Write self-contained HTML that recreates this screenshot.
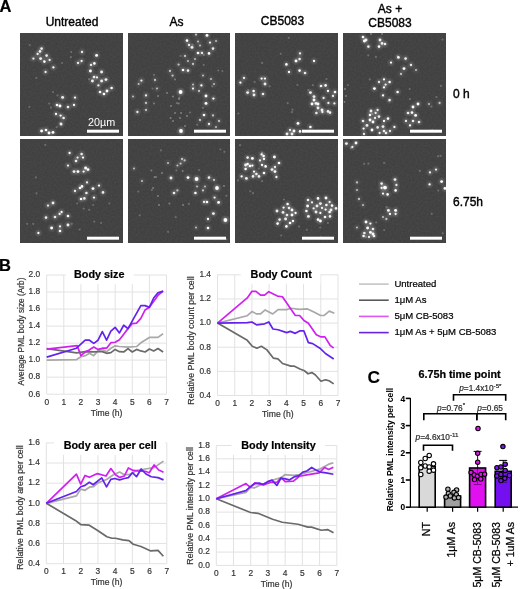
<!DOCTYPE html><html><head><meta charset="utf-8"><style>html,body{margin:0;padding:0;background:#fff;width:520px;height:589px;overflow:hidden;position:relative}</style></head><body><svg width="520" height="589" viewBox="0 0 520 589" style="position:absolute;left:0;top:0;will-change:transform">
<defs><radialGradient id="dg"><stop offset="0" stop-color="#fff" stop-opacity="1"/><stop offset="0.45" stop-color="#fff" stop-opacity="0.9"/><stop offset="1" stop-color="#fff" stop-opacity="0"/></radialGradient><filter id="bl" x="-100%" y="-100%" width="300%" height="300%"><feGaussianBlur stdDeviation="0.55"/></filter><filter id="nz" x="0" y="0" width="100%" height="100%"><feTurbulence type="fractalNoise" baseFrequency="0.55" numOctaves="2" seed="3"/><feColorMatrix values="0 0 0 0 0.5  0 0 0 0 0.5  0 0 0 0 0.5  0 0 0 0.11 0"/></filter></defs>
<rect width="520" height="589" fill="#fff"/>
<rect x="20" y="33" width="103" height="103" fill="#3c3c3c"/>
<rect x="20" y="33" width="103" height="103" filter="url(#nz)"/>
<g clip-path="inset(0)">
<circle cx="41.6" cy="48.6" r="4.5" fill="url(#dg)" opacity="0.13"/>
<circle cx="41.6" cy="48.6" r="1.3" fill="#fff" opacity="0.9" filter="url(#bl)"/>
<circle cx="40.0" cy="51.4" r="4.5" fill="url(#dg)" opacity="0.13"/>
<circle cx="40.0" cy="51.4" r="1.3" fill="#fff" opacity="0.9" filter="url(#bl)"/>
<circle cx="37.6" cy="54.0" r="4.35" fill="url(#dg)" opacity="0.13"/>
<circle cx="37.6" cy="54.0" r="1.15" fill="#fff" opacity="0.9" filter="url(#bl)"/>
<circle cx="46.6" cy="55.6" r="4.5" fill="url(#dg)" opacity="0.13"/>
<circle cx="46.6" cy="55.6" r="1.3" fill="#fff" opacity="0.9" filter="url(#bl)"/>
<circle cx="40.6" cy="58.6" r="4.65" fill="url(#dg)" opacity="0.13"/>
<circle cx="40.6" cy="58.6" r="1.45" fill="#fff" opacity="0.9" filter="url(#bl)"/>
<circle cx="33.4" cy="58.6" r="4.35" fill="url(#dg)" opacity="0.13"/>
<circle cx="33.4" cy="58.6" r="1.15" fill="#fff" opacity="0.9" filter="url(#bl)"/>
<circle cx="44.4" cy="61.6" r="4.5" fill="url(#dg)" opacity="0.13"/>
<circle cx="44.4" cy="61.6" r="1.3" fill="#fff" opacity="1.0" filter="url(#bl)"/>
<circle cx="49.6" cy="60.0" r="4.35" fill="url(#dg)" opacity="0.13"/>
<circle cx="49.6" cy="60.0" r="1.15" fill="#fff" opacity="0.9" filter="url(#bl)"/>
<circle cx="53.4" cy="67.4" r="4.35" fill="url(#dg)" opacity="0.13"/>
<circle cx="53.4" cy="67.4" r="1.15" fill="#fff" opacity="1.0" filter="url(#bl)"/>
<circle cx="45.6" cy="72.0" r="4.35" fill="url(#dg)" opacity="0.13"/>
<circle cx="45.6" cy="72.0" r="1.15" fill="#fff" opacity="0.9" filter="url(#bl)"/>
<circle cx="82.0" cy="52.0" r="4.35" fill="url(#dg)" opacity="0.13"/>
<circle cx="82.0" cy="52.0" r="1.15" fill="#fff" opacity="0.9" filter="url(#bl)"/>
<circle cx="96.6" cy="55.4" r="4.65" fill="url(#dg)" opacity="0.13"/>
<circle cx="96.6" cy="55.4" r="1.45" fill="#fff" opacity="1.0" filter="url(#bl)"/>
<circle cx="78.0" cy="63.0" r="4.35" fill="url(#dg)" opacity="0.13"/>
<circle cx="78.0" cy="63.0" r="1.15" fill="#fff" opacity="0.9" filter="url(#bl)"/>
<circle cx="81.6" cy="61.0" r="4.35" fill="url(#dg)" opacity="0.13"/>
<circle cx="81.6" cy="61.0" r="1.15" fill="#fff" opacity="0.9" filter="url(#bl)"/>
<circle cx="94.4" cy="63.4" r="4.5" fill="url(#dg)" opacity="0.13"/>
<circle cx="94.4" cy="63.4" r="1.3" fill="#fff" opacity="1.0" filter="url(#bl)"/>
<circle cx="91.0" cy="65.0" r="4.35" fill="url(#dg)" opacity="0.13"/>
<circle cx="91.0" cy="65.0" r="1.15" fill="#fff" opacity="0.9" filter="url(#bl)"/>
<circle cx="90.4" cy="71.0" r="4.65" fill="url(#dg)" opacity="0.13"/>
<circle cx="90.4" cy="71.0" r="1.45" fill="#fff" opacity="1.0" filter="url(#bl)"/>
<circle cx="101.6" cy="72.0" r="4.65" fill="url(#dg)" opacity="0.13"/>
<circle cx="101.6" cy="72.0" r="1.45" fill="#fff" opacity="0.9" filter="url(#bl)"/>
<circle cx="97.0" cy="77.4" r="4.35" fill="url(#dg)" opacity="0.13"/>
<circle cx="97.0" cy="77.4" r="1.15" fill="#fff" opacity="0.9" filter="url(#bl)"/>
<circle cx="94.0" cy="77.0" r="4.5" fill="url(#dg)" opacity="0.13"/>
<circle cx="94.0" cy="77.0" r="1.3" fill="#fff" opacity="0.9" filter="url(#bl)"/>
<circle cx="106.0" cy="79.6" r="4.65" fill="url(#dg)" opacity="0.13"/>
<circle cx="106.0" cy="79.6" r="1.45" fill="#fff" opacity="0.9" filter="url(#bl)"/>
<circle cx="92.4" cy="81.0" r="4.65" fill="url(#dg)" opacity="0.13"/>
<circle cx="92.4" cy="81.0" r="1.45" fill="#fff" opacity="0.9" filter="url(#bl)"/>
<circle cx="101.6" cy="81.0" r="4.65" fill="url(#dg)" opacity="0.13"/>
<circle cx="101.6" cy="81.0" r="1.45" fill="#fff" opacity="0.9" filter="url(#bl)"/>
<circle cx="111.6" cy="88.0" r="4.5" fill="url(#dg)" opacity="0.13"/>
<circle cx="111.6" cy="88.0" r="1.3" fill="#fff" opacity="1.0" filter="url(#bl)"/>
<circle cx="100.0" cy="92.0" r="4.5" fill="url(#dg)" opacity="0.13"/>
<circle cx="100.0" cy="92.0" r="1.3" fill="#fff" opacity="1.0" filter="url(#bl)"/>
<circle cx="107.0" cy="91.0" r="4.65" fill="url(#dg)" opacity="0.13"/>
<circle cx="107.0" cy="91.0" r="1.45" fill="#fff" opacity="1.0" filter="url(#bl)"/>
<circle cx="104.0" cy="94.0" r="4.5" fill="url(#dg)" opacity="0.13"/>
<circle cx="104.0" cy="94.0" r="1.3" fill="#fff" opacity="1.0" filter="url(#bl)"/>
<circle cx="98.4" cy="85.4" r="4.35" fill="url(#dg)" opacity="0.13"/>
<circle cx="98.4" cy="85.4" r="1.15" fill="#fff" opacity="0.9" filter="url(#bl)"/>
<circle cx="62.6" cy="97.4" r="4.65" fill="url(#dg)" opacity="0.13"/>
<circle cx="62.6" cy="97.4" r="1.45" fill="#fff" opacity="0.9" filter="url(#bl)"/>
<circle cx="75.0" cy="97.6" r="4.35" fill="url(#dg)" opacity="0.13"/>
<circle cx="75.0" cy="97.6" r="1.15" fill="#fff" opacity="1.0" filter="url(#bl)"/>
<circle cx="60.0" cy="106.0" r="4.65" fill="url(#dg)" opacity="0.13"/>
<circle cx="60.0" cy="106.0" r="1.45" fill="#fff" opacity="1.0" filter="url(#bl)"/>
<circle cx="57.0" cy="105.0" r="4.5" fill="url(#dg)" opacity="0.13"/>
<circle cx="57.0" cy="105.0" r="1.3" fill="#fff" opacity="1.0" filter="url(#bl)"/>
<circle cx="68.0" cy="107.0" r="4.5" fill="url(#dg)" opacity="0.13"/>
<circle cx="68.0" cy="107.0" r="1.3" fill="#fff" opacity="0.9" filter="url(#bl)"/>
<circle cx="74.0" cy="105.0" r="4.35" fill="url(#dg)" opacity="0.13"/>
<circle cx="74.0" cy="105.0" r="1.15" fill="#fff" opacity="1.0" filter="url(#bl)"/>
<circle cx="56.0" cy="114.0" r="4.35" fill="url(#dg)" opacity="0.13"/>
<circle cx="56.0" cy="114.0" r="1.15" fill="#fff" opacity="1.0" filter="url(#bl)"/>
<circle cx="60.6" cy="115.6" r="4.35" fill="url(#dg)" opacity="0.13"/>
<circle cx="60.6" cy="115.6" r="1.15" fill="#fff" opacity="1.0" filter="url(#bl)"/>
<circle cx="63.6" cy="118.0" r="4.5" fill="url(#dg)" opacity="0.13"/>
<circle cx="63.6" cy="118.0" r="1.3" fill="#fff" opacity="0.9" filter="url(#bl)"/>
<circle cx="61.0" cy="124.0" r="4.65" fill="url(#dg)" opacity="0.13"/>
<circle cx="61.0" cy="124.0" r="1.45" fill="#fff" opacity="0.9" filter="url(#bl)"/>
<circle cx="41.6" cy="131.0" r="4.65" fill="url(#dg)" opacity="0.13"/>
<circle cx="41.6" cy="131.0" r="1.45" fill="#fff" opacity="1.0" filter="url(#bl)"/>
<circle cx="46.0" cy="130.0" r="4.5" fill="url(#dg)" opacity="0.13"/>
<circle cx="46.0" cy="130.0" r="1.3" fill="#fff" opacity="1.0" filter="url(#bl)"/>
<circle cx="49.0" cy="133.0" r="4.65" fill="url(#dg)" opacity="0.13"/>
<circle cx="49.0" cy="133.0" r="1.45" fill="#fff" opacity="1.0" filter="url(#bl)"/>
<circle cx="53.0" cy="132.4" r="4.65" fill="url(#dg)" opacity="0.13"/>
<circle cx="53.0" cy="132.4" r="1.45" fill="#fff" opacity="1.0" filter="url(#bl)"/>
<circle cx="29.7" cy="45.1" r="1.1" fill="#fff" opacity="0.22" filter="url(#bl)"/>
<circle cx="49.2" cy="103.6" r="1.1" fill="#fff" opacity="0.22" filter="url(#bl)"/>
<circle cx="29.3" cy="106.9" r="1.1" fill="#fff" opacity="0.22" filter="url(#bl)"/>
<circle cx="53.0" cy="92.1" r="1.1" fill="#fff" opacity="0.22" filter="url(#bl)"/>
<circle cx="89.1" cy="79.2" r="1.1" fill="#fff" opacity="0.22" filter="url(#bl)"/>
<circle cx="92.5" cy="122.0" r="1.1" fill="#fff" opacity="0.22" filter="url(#bl)"/>
<circle cx="56.7" cy="127.2" r="1.1" fill="#fff" opacity="0.22" filter="url(#bl)"/>
<circle cx="57.5" cy="95.3" r="1.1" fill="#fff" opacity="0.22" filter="url(#bl)"/>
<circle cx="70.9" cy="57.2" r="1.1" fill="#fff" opacity="0.22" filter="url(#bl)"/>
<circle cx="50.9" cy="107.6" r="1.1" fill="#fff" opacity="0.22" filter="url(#bl)"/>
<circle cx="61.6" cy="124.9" r="1.1" fill="#fff" opacity="0.22" filter="url(#bl)"/>
<circle cx="71.2" cy="52.1" r="1.1" fill="#fff" opacity="0.22" filter="url(#bl)"/>
<circle cx="62.0" cy="63.0" r="1.1" fill="#fff" opacity="0.22" filter="url(#bl)"/>
<circle cx="36.3" cy="77.8" r="1.1" fill="#fff" opacity="0.22" filter="url(#bl)"/>
</g>
<rect x="87" y="129.7" width="32" height="3" fill="#fff"/>
<rect x="128" y="33" width="102" height="103" fill="#3c3c3c"/>
<rect x="128" y="33" width="102" height="103" filter="url(#nz)"/>
<g clip-path="inset(0)">
<circle cx="207.0" cy="35.4" r="4.65" fill="url(#dg)" opacity="0.13"/>
<circle cx="207.0" cy="35.4" r="1.45" fill="#fff" opacity="1.0" filter="url(#bl)"/>
<circle cx="196.0" cy="34.6" r="4.35" fill="url(#dg)" opacity="0.07"/>
<circle cx="196.0" cy="34.6" r="1.15" fill="#fff" opacity="0.65" filter="url(#bl)"/>
<circle cx="187.0" cy="40.6" r="4.5" fill="url(#dg)" opacity="0.13"/>
<circle cx="187.0" cy="40.6" r="1.3" fill="#fff" opacity="1.0" filter="url(#bl)"/>
<circle cx="198.0" cy="41.4" r="4.2" fill="url(#dg)" opacity="0.07"/>
<circle cx="198.0" cy="41.4" r="1.0" fill="#fff" opacity="0.65" filter="url(#bl)"/>
<circle cx="210.0" cy="42.6" r="4.35" fill="url(#dg)" opacity="0.13"/>
<circle cx="210.0" cy="42.6" r="1.15" fill="#fff" opacity="0.9" filter="url(#bl)"/>
<circle cx="216.0" cy="41.0" r="4.2" fill="url(#dg)" opacity="0.07"/>
<circle cx="216.0" cy="41.0" r="1.0" fill="#fff" opacity="0.65" filter="url(#bl)"/>
<circle cx="189.0" cy="45.0" r="4.35" fill="url(#dg)" opacity="0.13"/>
<circle cx="189.0" cy="45.0" r="1.15" fill="#fff" opacity="0.9" filter="url(#bl)"/>
<circle cx="192.0" cy="47.4" r="4.65" fill="url(#dg)" opacity="0.13"/>
<circle cx="192.0" cy="47.4" r="1.45" fill="#fff" opacity="0.9" filter="url(#bl)"/>
<circle cx="200.0" cy="45.4" r="4.2" fill="url(#dg)" opacity="0.07"/>
<circle cx="200.0" cy="45.4" r="1.0" fill="#fff" opacity="0.65" filter="url(#bl)"/>
<circle cx="213.0" cy="48.6" r="4.5" fill="url(#dg)" opacity="0.13"/>
<circle cx="213.0" cy="48.6" r="1.3" fill="#fff" opacity="0.9" filter="url(#bl)"/>
<circle cx="198.0" cy="53.0" r="4.5" fill="url(#dg)" opacity="0.13"/>
<circle cx="198.0" cy="53.0" r="1.3" fill="#fff" opacity="1.0" filter="url(#bl)"/>
<circle cx="202.0" cy="53.0" r="4.35" fill="url(#dg)" opacity="0.13"/>
<circle cx="202.0" cy="53.0" r="1.15" fill="#fff" opacity="0.9" filter="url(#bl)"/>
<circle cx="209.0" cy="53.4" r="4.5" fill="url(#dg)" opacity="0.13"/>
<circle cx="209.0" cy="53.4" r="1.3" fill="#fff" opacity="1.0" filter="url(#bl)"/>
<circle cx="185.0" cy="56.0" r="4.35" fill="url(#dg)" opacity="0.07"/>
<circle cx="185.0" cy="56.0" r="1.15" fill="#fff" opacity="0.65" filter="url(#bl)"/>
<circle cx="195.0" cy="59.0" r="4.2" fill="url(#dg)" opacity="0.07"/>
<circle cx="195.0" cy="59.0" r="1.0" fill="#fff" opacity="0.65" filter="url(#bl)"/>
<circle cx="188.0" cy="61.0" r="4.2" fill="url(#dg)" opacity="0.07"/>
<circle cx="188.0" cy="61.0" r="1.0" fill="#fff" opacity="0.65" filter="url(#bl)"/>
<circle cx="193.0" cy="64.0" r="4.35" fill="url(#dg)" opacity="0.07"/>
<circle cx="193.0" cy="64.0" r="1.15" fill="#fff" opacity="0.65" filter="url(#bl)"/>
<circle cx="178.6" cy="64.6" r="4.35" fill="url(#dg)" opacity="0.07"/>
<circle cx="178.6" cy="64.6" r="1.15" fill="#fff" opacity="0.65" filter="url(#bl)"/>
<circle cx="183.0" cy="70.0" r="4.5" fill="url(#dg)" opacity="0.13"/>
<circle cx="183.0" cy="70.0" r="1.3" fill="#fff" opacity="1.0" filter="url(#bl)"/>
<circle cx="188.0" cy="70.6" r="4.5" fill="url(#dg)" opacity="0.13"/>
<circle cx="188.0" cy="70.6" r="1.3" fill="#fff" opacity="0.9" filter="url(#bl)"/>
<circle cx="170.0" cy="71.0" r="4.35" fill="url(#dg)" opacity="0.07"/>
<circle cx="170.0" cy="71.0" r="1.15" fill="#fff" opacity="0.65" filter="url(#bl)"/>
<circle cx="172.6" cy="75.6" r="4.35" fill="url(#dg)" opacity="0.07"/>
<circle cx="172.6" cy="75.6" r="1.15" fill="#fff" opacity="0.65" filter="url(#bl)"/>
<circle cx="203.0" cy="75.4" r="4.2" fill="url(#dg)" opacity="0.07"/>
<circle cx="203.0" cy="75.4" r="1.0" fill="#fff" opacity="0.65" filter="url(#bl)"/>
<circle cx="211.0" cy="79.0" r="4.2" fill="url(#dg)" opacity="0.07"/>
<circle cx="211.0" cy="79.0" r="1.0" fill="#fff" opacity="0.65" filter="url(#bl)"/>
<circle cx="175.0" cy="79.4" r="1.0" fill="#fff" opacity="0.32" filter="url(#bl)"/>
<circle cx="141.4" cy="80.6" r="4.35" fill="url(#dg)" opacity="0.13"/>
<circle cx="141.4" cy="80.6" r="1.15" fill="#fff" opacity="0.9" filter="url(#bl)"/>
<circle cx="155.0" cy="80.0" r="4.35" fill="url(#dg)" opacity="0.07"/>
<circle cx="155.0" cy="80.0" r="1.15" fill="#fff" opacity="0.65" filter="url(#bl)"/>
<circle cx="138.6" cy="84.0" r="4.2" fill="url(#dg)" opacity="0.07"/>
<circle cx="138.6" cy="84.0" r="1.0" fill="#fff" opacity="0.65" filter="url(#bl)"/>
<circle cx="201.4" cy="85.4" r="4.35" fill="url(#dg)" opacity="0.13"/>
<circle cx="201.4" cy="85.4" r="1.15" fill="#fff" opacity="1.0" filter="url(#bl)"/>
<circle cx="214.0" cy="84.0" r="4.2" fill="url(#dg)" opacity="0.07"/>
<circle cx="214.0" cy="84.0" r="1.0" fill="#fff" opacity="0.65" filter="url(#bl)"/>
<circle cx="193.0" cy="84.6" r="4.2" fill="url(#dg)" opacity="0.07"/>
<circle cx="193.0" cy="84.6" r="1.0" fill="#fff" opacity="0.65" filter="url(#bl)"/>
<circle cx="193.0" cy="88.6" r="4.35" fill="url(#dg)" opacity="0.13"/>
<circle cx="193.0" cy="88.6" r="1.15" fill="#fff" opacity="0.9" filter="url(#bl)"/>
<circle cx="157.0" cy="88.6" r="4.2" fill="url(#dg)" opacity="0.07"/>
<circle cx="157.0" cy="88.6" r="1.0" fill="#fff" opacity="0.65" filter="url(#bl)"/>
<circle cx="199.0" cy="91.0" r="4.35" fill="url(#dg)" opacity="0.07"/>
<circle cx="199.0" cy="91.0" r="1.15" fill="#fff" opacity="0.65" filter="url(#bl)"/>
<circle cx="180.6" cy="92.0" r="5.1" fill="url(#dg)" opacity="0.22"/>
<circle cx="180.6" cy="92.0" r="1.9" fill="#fff" opacity="1.0" filter="url(#bl)"/>
<circle cx="167.0" cy="93.0" r="1.0" fill="#fff" opacity="0.32" filter="url(#bl)"/>
<circle cx="133.0" cy="96.6" r="4.2" fill="url(#dg)" opacity="0.07"/>
<circle cx="133.0" cy="96.6" r="1.0" fill="#fff" opacity="0.65" filter="url(#bl)"/>
<circle cx="146.0" cy="95.4" r="4.35" fill="url(#dg)" opacity="0.13"/>
<circle cx="146.0" cy="95.4" r="1.15" fill="#fff" opacity="0.9" filter="url(#bl)"/>
<circle cx="206.0" cy="96.0" r="4.65" fill="url(#dg)" opacity="0.13"/>
<circle cx="206.0" cy="96.0" r="1.45" fill="#fff" opacity="1.0" filter="url(#bl)"/>
<circle cx="213.4" cy="98.6" r="4.35" fill="url(#dg)" opacity="0.13"/>
<circle cx="213.4" cy="98.6" r="1.15" fill="#fff" opacity="1.0" filter="url(#bl)"/>
<circle cx="158.0" cy="96.0" r="1.0" fill="#fff" opacity="0.32" filter="url(#bl)"/>
<circle cx="173.0" cy="96.6" r="1.0" fill="#fff" opacity="0.32" filter="url(#bl)"/>
<circle cx="179.0" cy="99.0" r="1.0" fill="#fff" opacity="0.32" filter="url(#bl)"/>
<circle cx="146.0" cy="103.0" r="4.35" fill="url(#dg)" opacity="0.07"/>
<circle cx="146.0" cy="103.0" r="1.15" fill="#fff" opacity="0.65" filter="url(#bl)"/>
<circle cx="154.0" cy="103.4" r="1.0" fill="#fff" opacity="0.32" filter="url(#bl)"/>
<circle cx="178.6" cy="103.4" r="1.0" fill="#fff" opacity="0.32" filter="url(#bl)"/>
<circle cx="206.0" cy="103.4" r="4.65" fill="url(#dg)" opacity="0.13"/>
<circle cx="206.0" cy="103.4" r="1.45" fill="#fff" opacity="1.0" filter="url(#bl)"/>
<circle cx="171.0" cy="106.0" r="1.0" fill="#fff" opacity="0.32" filter="url(#bl)"/>
<circle cx="146.0" cy="110.0" r="4.35" fill="url(#dg)" opacity="0.07"/>
<circle cx="146.0" cy="110.0" r="1.15" fill="#fff" opacity="0.65" filter="url(#bl)"/>
<circle cx="137.4" cy="112.0" r="4.35" fill="url(#dg)" opacity="0.13"/>
<circle cx="137.4" cy="112.0" r="1.15" fill="#fff" opacity="0.9" filter="url(#bl)"/>
<circle cx="175.0" cy="113.0" r="1.0" fill="#fff" opacity="0.32" filter="url(#bl)"/>
<circle cx="181.0" cy="113.0" r="1.0" fill="#fff" opacity="0.32" filter="url(#bl)"/>
<circle cx="204.0" cy="115.0" r="4.5" fill="url(#dg)" opacity="0.13"/>
<circle cx="204.0" cy="115.0" r="1.3" fill="#fff" opacity="1.0" filter="url(#bl)"/>
<circle cx="213.0" cy="115.4" r="4.35" fill="url(#dg)" opacity="0.07"/>
<circle cx="213.0" cy="115.4" r="1.15" fill="#fff" opacity="0.65" filter="url(#bl)"/>
<circle cx="187.0" cy="116.0" r="1.0" fill="#fff" opacity="0.32" filter="url(#bl)"/>
<circle cx="170.6" cy="118.0" r="1.0" fill="#fff" opacity="0.32" filter="url(#bl)"/>
<circle cx="180.0" cy="118.0" r="1.0" fill="#fff" opacity="0.32" filter="url(#bl)"/>
<circle cx="200.0" cy="120.0" r="4.35" fill="url(#dg)" opacity="0.07"/>
<circle cx="200.0" cy="120.0" r="1.15" fill="#fff" opacity="0.65" filter="url(#bl)"/>
<circle cx="219.0" cy="121.0" r="4.35" fill="url(#dg)" opacity="0.07"/>
<circle cx="219.0" cy="121.0" r="1.15" fill="#fff" opacity="0.65" filter="url(#bl)"/>
<circle cx="209.0" cy="124.0" r="4.35" fill="url(#dg)" opacity="0.13"/>
<circle cx="209.0" cy="124.0" r="1.15" fill="#fff" opacity="0.9" filter="url(#bl)"/>
<circle cx="173.0" cy="121.0" r="1.0" fill="#fff" opacity="0.32" filter="url(#bl)"/>
<circle cx="216.0" cy="127.0" r="4.2" fill="url(#dg)" opacity="0.07"/>
<circle cx="216.0" cy="127.0" r="1.0" fill="#fff" opacity="0.65" filter="url(#bl)"/>
<circle cx="185.0" cy="126.0" r="1.0" fill="#fff" opacity="0.32" filter="url(#bl)"/>
<circle cx="181.0" cy="131.0" r="5.1" fill="url(#dg)" opacity="0.22"/>
<circle cx="181.0" cy="131.0" r="1.9" fill="#fff" opacity="1.0" filter="url(#bl)"/>
<circle cx="203.0" cy="107.8" r="1.1" fill="#fff" opacity="0.22" filter="url(#bl)"/>
<circle cx="176.9" cy="103.1" r="1.1" fill="#fff" opacity="0.22" filter="url(#bl)"/>
<circle cx="180.6" cy="55.9" r="1.1" fill="#fff" opacity="0.22" filter="url(#bl)"/>
<circle cx="222.4" cy="71.1" r="1.1" fill="#fff" opacity="0.22" filter="url(#bl)"/>
<circle cx="197.2" cy="124.7" r="1.1" fill="#fff" opacity="0.22" filter="url(#bl)"/>
<circle cx="203.8" cy="64.9" r="1.1" fill="#fff" opacity="0.22" filter="url(#bl)"/>
<circle cx="192.7" cy="44.8" r="1.1" fill="#fff" opacity="0.22" filter="url(#bl)"/>
<circle cx="212.2" cy="86.3" r="1.1" fill="#fff" opacity="0.22" filter="url(#bl)"/>
<circle cx="218.2" cy="70.5" r="1.1" fill="#fff" opacity="0.22" filter="url(#bl)"/>
<circle cx="152.4" cy="88.5" r="1.1" fill="#fff" opacity="0.22" filter="url(#bl)"/>
<circle cx="179.3" cy="97.7" r="1.1" fill="#fff" opacity="0.22" filter="url(#bl)"/>
<circle cx="189.9" cy="112.5" r="1.1" fill="#fff" opacity="0.22" filter="url(#bl)"/>
<circle cx="203.8" cy="54.9" r="1.1" fill="#fff" opacity="0.22" filter="url(#bl)"/>
<circle cx="154.0" cy="74.9" r="1.1" fill="#fff" opacity="0.22" filter="url(#bl)"/>
</g>
<rect x="194" y="129.7" width="32" height="3" fill="#fff"/>
<rect x="235" y="33" width="103" height="103" fill="#3c3c3c"/>
<rect x="235" y="33" width="103" height="103" filter="url(#nz)"/>
<g clip-path="inset(0)">
<circle cx="300.0" cy="53.4" r="4.35" fill="url(#dg)" opacity="0.13"/>
<circle cx="300.0" cy="53.4" r="1.15" fill="#fff" opacity="0.9" filter="url(#bl)"/>
<circle cx="296.0" cy="61.0" r="4.65" fill="url(#dg)" opacity="0.13"/>
<circle cx="296.0" cy="61.0" r="1.45" fill="#fff" opacity="1.0" filter="url(#bl)"/>
<circle cx="299.6" cy="59.0" r="4.5" fill="url(#dg)" opacity="0.13"/>
<circle cx="299.6" cy="59.0" r="1.3" fill="#fff" opacity="0.9" filter="url(#bl)"/>
<circle cx="314.0" cy="61.0" r="4.35" fill="url(#dg)" opacity="0.13"/>
<circle cx="314.0" cy="61.0" r="1.15" fill="#fff" opacity="1.0" filter="url(#bl)"/>
<circle cx="286.4" cy="64.4" r="4.5" fill="url(#dg)" opacity="0.13"/>
<circle cx="286.4" cy="64.4" r="1.3" fill="#fff" opacity="1.0" filter="url(#bl)"/>
<circle cx="289.0" cy="72.0" r="4.35" fill="url(#dg)" opacity="0.13"/>
<circle cx="289.0" cy="72.0" r="1.15" fill="#fff" opacity="1.0" filter="url(#bl)"/>
<circle cx="299.6" cy="70.6" r="4.5" fill="url(#dg)" opacity="0.13"/>
<circle cx="299.6" cy="70.6" r="1.3" fill="#fff" opacity="1.0" filter="url(#bl)"/>
<circle cx="305.0" cy="73.0" r="4.5" fill="url(#dg)" opacity="0.13"/>
<circle cx="305.0" cy="73.0" r="1.3" fill="#fff" opacity="0.9" filter="url(#bl)"/>
<circle cx="244.0" cy="78.0" r="4.35" fill="url(#dg)" opacity="0.13"/>
<circle cx="244.0" cy="78.0" r="1.15" fill="#fff" opacity="0.9" filter="url(#bl)"/>
<circle cx="240.4" cy="82.6" r="4.35" fill="url(#dg)" opacity="0.13"/>
<circle cx="240.4" cy="82.6" r="1.15" fill="#fff" opacity="1.0" filter="url(#bl)"/>
<circle cx="261.6" cy="78.6" r="4.35" fill="url(#dg)" opacity="0.13"/>
<circle cx="261.6" cy="78.6" r="1.15" fill="#fff" opacity="1.0" filter="url(#bl)"/>
<circle cx="265.0" cy="78.6" r="4.35" fill="url(#dg)" opacity="0.13"/>
<circle cx="265.0" cy="78.6" r="1.15" fill="#fff" opacity="1.0" filter="url(#bl)"/>
<circle cx="265.0" cy="84.0" r="4.65" fill="url(#dg)" opacity="0.13"/>
<circle cx="265.0" cy="84.0" r="1.45" fill="#fff" opacity="0.9" filter="url(#bl)"/>
<circle cx="253.6" cy="91.0" r="4.5" fill="url(#dg)" opacity="0.13"/>
<circle cx="253.6" cy="91.0" r="1.3" fill="#fff" opacity="1.0" filter="url(#bl)"/>
<circle cx="247.6" cy="92.6" r="4.65" fill="url(#dg)" opacity="0.13"/>
<circle cx="247.6" cy="92.6" r="1.45" fill="#fff" opacity="0.9" filter="url(#bl)"/>
<circle cx="254.0" cy="95.0" r="4.65" fill="url(#dg)" opacity="0.13"/>
<circle cx="254.0" cy="95.0" r="1.45" fill="#fff" opacity="0.9" filter="url(#bl)"/>
<circle cx="263.0" cy="94.0" r="4.5" fill="url(#dg)" opacity="0.13"/>
<circle cx="263.0" cy="94.0" r="1.3" fill="#fff" opacity="0.9" filter="url(#bl)"/>
<circle cx="321.0" cy="86.0" r="4.5" fill="url(#dg)" opacity="0.13"/>
<circle cx="321.0" cy="86.0" r="1.3" fill="#fff" opacity="0.9" filter="url(#bl)"/>
<circle cx="325.6" cy="85.4" r="4.5" fill="url(#dg)" opacity="0.13"/>
<circle cx="325.6" cy="85.4" r="1.3" fill="#fff" opacity="1.0" filter="url(#bl)"/>
<circle cx="328.0" cy="91.0" r="4.35" fill="url(#dg)" opacity="0.13"/>
<circle cx="328.0" cy="91.0" r="1.15" fill="#fff" opacity="1.0" filter="url(#bl)"/>
<circle cx="335.0" cy="92.0" r="4.5" fill="url(#dg)" opacity="0.13"/>
<circle cx="335.0" cy="92.0" r="1.3" fill="#fff" opacity="1.0" filter="url(#bl)"/>
<circle cx="310.4" cy="92.6" r="4.65" fill="url(#dg)" opacity="0.13"/>
<circle cx="310.4" cy="92.6" r="1.45" fill="#fff" opacity="0.9" filter="url(#bl)"/>
<circle cx="314.0" cy="96.6" r="4.65" fill="url(#dg)" opacity="0.13"/>
<circle cx="314.0" cy="96.6" r="1.45" fill="#fff" opacity="0.9" filter="url(#bl)"/>
<circle cx="323.6" cy="98.0" r="4.35" fill="url(#dg)" opacity="0.13"/>
<circle cx="323.6" cy="98.0" r="1.15" fill="#fff" opacity="0.9" filter="url(#bl)"/>
<circle cx="333.0" cy="96.0" r="4.35" fill="url(#dg)" opacity="0.13"/>
<circle cx="333.0" cy="96.0" r="1.15" fill="#fff" opacity="0.9" filter="url(#bl)"/>
<circle cx="314.0" cy="100.0" r="4.65" fill="url(#dg)" opacity="0.13"/>
<circle cx="314.0" cy="100.0" r="1.45" fill="#fff" opacity="1.0" filter="url(#bl)"/>
<circle cx="316.0" cy="103.4" r="4.65" fill="url(#dg)" opacity="0.13"/>
<circle cx="316.0" cy="103.4" r="1.45" fill="#fff" opacity="0.9" filter="url(#bl)"/>
<circle cx="318.0" cy="104.0" r="4.65" fill="url(#dg)" opacity="0.13"/>
<circle cx="318.0" cy="104.0" r="1.45" fill="#fff" opacity="1.0" filter="url(#bl)"/>
<circle cx="312.0" cy="104.0" r="4.65" fill="url(#dg)" opacity="0.13"/>
<circle cx="312.0" cy="104.0" r="1.45" fill="#fff" opacity="1.0" filter="url(#bl)"/>
<circle cx="328.4" cy="103.0" r="4.35" fill="url(#dg)" opacity="0.13"/>
<circle cx="328.4" cy="103.0" r="1.15" fill="#fff" opacity="0.9" filter="url(#bl)"/>
<circle cx="334.4" cy="103.4" r="4.35" fill="url(#dg)" opacity="0.13"/>
<circle cx="334.4" cy="103.4" r="1.15" fill="#fff" opacity="0.9" filter="url(#bl)"/>
<circle cx="318.0" cy="108.0" r="4.65" fill="url(#dg)" opacity="0.13"/>
<circle cx="318.0" cy="108.0" r="1.45" fill="#fff" opacity="0.9" filter="url(#bl)"/>
<circle cx="322.0" cy="110.0" r="4.65" fill="url(#dg)" opacity="0.13"/>
<circle cx="322.0" cy="110.0" r="1.45" fill="#fff" opacity="0.9" filter="url(#bl)"/>
<circle cx="316.4" cy="113.0" r="4.5" fill="url(#dg)" opacity="0.13"/>
<circle cx="316.4" cy="113.0" r="1.3" fill="#fff" opacity="0.9" filter="url(#bl)"/>
<circle cx="322.4" cy="112.0" r="4.35" fill="url(#dg)" opacity="0.13"/>
<circle cx="322.4" cy="112.0" r="1.15" fill="#fff" opacity="0.9" filter="url(#bl)"/>
<circle cx="328.0" cy="111.4" r="4.5" fill="url(#dg)" opacity="0.13"/>
<circle cx="328.0" cy="111.4" r="1.3" fill="#fff" opacity="0.9" filter="url(#bl)"/>
<circle cx="330.0" cy="112.6" r="4.5" fill="url(#dg)" opacity="0.13"/>
<circle cx="330.0" cy="112.6" r="1.3" fill="#fff" opacity="0.9" filter="url(#bl)"/>
<circle cx="298.0" cy="123.4" r="4.65" fill="url(#dg)" opacity="0.13"/>
<circle cx="298.0" cy="123.4" r="1.45" fill="#fff" opacity="1.0" filter="url(#bl)"/>
<circle cx="310.4" cy="127.0" r="4.5" fill="url(#dg)" opacity="0.13"/>
<circle cx="310.4" cy="127.0" r="1.3" fill="#fff" opacity="1.0" filter="url(#bl)"/>
<circle cx="290.0" cy="130.0" r="4.35" fill="url(#dg)" opacity="0.13"/>
<circle cx="290.0" cy="130.0" r="1.15" fill="#fff" opacity="0.9" filter="url(#bl)"/>
<circle cx="294.0" cy="131.0" r="4.65" fill="url(#dg)" opacity="0.13"/>
<circle cx="294.0" cy="131.0" r="1.45" fill="#fff" opacity="1.0" filter="url(#bl)"/>
<circle cx="300.0" cy="131.4" r="4.5" fill="url(#dg)" opacity="0.13"/>
<circle cx="300.0" cy="131.4" r="1.3" fill="#fff" opacity="1.0" filter="url(#bl)"/>
<circle cx="287.0" cy="134.0" r="4.65" fill="url(#dg)" opacity="0.13"/>
<circle cx="287.0" cy="134.0" r="1.45" fill="#fff" opacity="0.9" filter="url(#bl)"/>
<circle cx="292.0" cy="134.0" r="4.65" fill="url(#dg)" opacity="0.13"/>
<circle cx="292.0" cy="134.0" r="1.45" fill="#fff" opacity="0.9" filter="url(#bl)"/>
<circle cx="288.8" cy="37.8" r="1.1" fill="#fff" opacity="0.22" filter="url(#bl)"/>
<circle cx="280.7" cy="53.8" r="1.1" fill="#fff" opacity="0.22" filter="url(#bl)"/>
<circle cx="238.4" cy="113.5" r="1.1" fill="#fff" opacity="0.22" filter="url(#bl)"/>
<circle cx="254.7" cy="81.9" r="1.1" fill="#fff" opacity="0.22" filter="url(#bl)"/>
<circle cx="308.3" cy="90.0" r="1.1" fill="#fff" opacity="0.22" filter="url(#bl)"/>
<circle cx="269.6" cy="86.3" r="1.1" fill="#fff" opacity="0.22" filter="url(#bl)"/>
<circle cx="291.9" cy="112.1" r="1.1" fill="#fff" opacity="0.22" filter="url(#bl)"/>
<circle cx="248.3" cy="90.3" r="1.1" fill="#fff" opacity="0.22" filter="url(#bl)"/>
<circle cx="262.1" cy="62.9" r="1.1" fill="#fff" opacity="0.22" filter="url(#bl)"/>
<circle cx="312.9" cy="85.2" r="1.1" fill="#fff" opacity="0.22" filter="url(#bl)"/>
<circle cx="292.5" cy="109.7" r="1.1" fill="#fff" opacity="0.22" filter="url(#bl)"/>
<circle cx="326.5" cy="79.0" r="1.1" fill="#fff" opacity="0.22" filter="url(#bl)"/>
<circle cx="297.4" cy="85.0" r="1.1" fill="#fff" opacity="0.22" filter="url(#bl)"/>
<circle cx="287.7" cy="103.2" r="1.1" fill="#fff" opacity="0.22" filter="url(#bl)"/>
</g>
<rect x="302" y="129.7" width="32" height="3" fill="#fff"/>
<rect x="343" y="33" width="103" height="103" fill="#3c3c3c"/>
<rect x="343" y="33" width="103" height="103" filter="url(#nz)"/>
<g clip-path="inset(0)">
<circle cx="363.0" cy="37.0" r="4.5" fill="url(#dg)" opacity="0.13"/>
<circle cx="363.0" cy="37.0" r="1.3" fill="#fff" opacity="1.0" filter="url(#bl)"/>
<circle cx="366.0" cy="40.0" r="4.65" fill="url(#dg)" opacity="0.13"/>
<circle cx="366.0" cy="40.0" r="1.45" fill="#fff" opacity="0.9" filter="url(#bl)"/>
<circle cx="364.4" cy="41.0" r="4.65" fill="url(#dg)" opacity="0.13"/>
<circle cx="364.4" cy="41.0" r="1.45" fill="#fff" opacity="1.0" filter="url(#bl)"/>
<circle cx="371.0" cy="34.0" r="1.0" fill="#fff" opacity="0.32" filter="url(#bl)"/>
<circle cx="382.0" cy="34.0" r="1.0" fill="#fff" opacity="0.32" filter="url(#bl)"/>
<circle cx="380.0" cy="40.0" r="4.65" fill="url(#dg)" opacity="0.13"/>
<circle cx="380.0" cy="40.0" r="1.45" fill="#fff" opacity="0.9" filter="url(#bl)"/>
<circle cx="382.0" cy="43.4" r="4.5" fill="url(#dg)" opacity="0.13"/>
<circle cx="382.0" cy="43.4" r="1.3" fill="#fff" opacity="0.9" filter="url(#bl)"/>
<circle cx="385.0" cy="44.0" r="4.5" fill="url(#dg)" opacity="0.13"/>
<circle cx="385.0" cy="44.0" r="1.3" fill="#fff" opacity="0.9" filter="url(#bl)"/>
<circle cx="379.0" cy="46.6" r="4.5" fill="url(#dg)" opacity="0.13"/>
<circle cx="379.0" cy="46.6" r="1.3" fill="#fff" opacity="1.0" filter="url(#bl)"/>
<circle cx="368.4" cy="46.6" r="4.5" fill="url(#dg)" opacity="0.13"/>
<circle cx="368.4" cy="46.6" r="1.3" fill="#fff" opacity="0.9" filter="url(#bl)"/>
<circle cx="398.4" cy="57.4" r="4.65" fill="url(#dg)" opacity="0.13"/>
<circle cx="398.4" cy="57.4" r="1.45" fill="#fff" opacity="0.9" filter="url(#bl)"/>
<circle cx="405.6" cy="58.6" r="4.5" fill="url(#dg)" opacity="0.13"/>
<circle cx="405.6" cy="58.6" r="1.3" fill="#fff" opacity="0.9" filter="url(#bl)"/>
<circle cx="391.0" cy="62.6" r="4.35" fill="url(#dg)" opacity="0.13"/>
<circle cx="391.0" cy="62.6" r="1.15" fill="#fff" opacity="1.0" filter="url(#bl)"/>
<circle cx="411.0" cy="65.0" r="4.35" fill="url(#dg)" opacity="0.13"/>
<circle cx="411.0" cy="65.0" r="1.15" fill="#fff" opacity="0.9" filter="url(#bl)"/>
<circle cx="404.0" cy="68.6" r="4.65" fill="url(#dg)" opacity="0.13"/>
<circle cx="404.0" cy="68.6" r="1.45" fill="#fff" opacity="1.0" filter="url(#bl)"/>
<circle cx="416.0" cy="70.0" r="4.2" fill="url(#dg)" opacity="0.07"/>
<circle cx="416.0" cy="70.0" r="1.0" fill="#fff" opacity="0.65" filter="url(#bl)"/>
<circle cx="401.0" cy="74.0" r="4.35" fill="url(#dg)" opacity="0.07"/>
<circle cx="401.0" cy="74.0" r="1.15" fill="#fff" opacity="0.65" filter="url(#bl)"/>
<circle cx="384.0" cy="79.4" r="4.35" fill="url(#dg)" opacity="0.13"/>
<circle cx="384.0" cy="79.4" r="1.15" fill="#fff" opacity="1.0" filter="url(#bl)"/>
<circle cx="379.0" cy="82.0" r="4.35" fill="url(#dg)" opacity="0.13"/>
<circle cx="379.0" cy="82.0" r="1.15" fill="#fff" opacity="0.9" filter="url(#bl)"/>
<circle cx="389.6" cy="82.0" r="4.5" fill="url(#dg)" opacity="0.13"/>
<circle cx="389.6" cy="82.0" r="1.3" fill="#fff" opacity="1.0" filter="url(#bl)"/>
<circle cx="385.6" cy="84.6" r="4.35" fill="url(#dg)" opacity="0.13"/>
<circle cx="385.6" cy="84.6" r="1.15" fill="#fff" opacity="0.9" filter="url(#bl)"/>
<circle cx="384.0" cy="87.4" r="4.35" fill="url(#dg)" opacity="0.13"/>
<circle cx="384.0" cy="87.4" r="1.15" fill="#fff" opacity="1.0" filter="url(#bl)"/>
<circle cx="374.4" cy="88.6" r="4.65" fill="url(#dg)" opacity="0.13"/>
<circle cx="374.4" cy="88.6" r="1.45" fill="#fff" opacity="1.0" filter="url(#bl)"/>
<circle cx="397.6" cy="92.0" r="4.5" fill="url(#dg)" opacity="0.13"/>
<circle cx="397.6" cy="92.0" r="1.3" fill="#fff" opacity="1.0" filter="url(#bl)"/>
<circle cx="383.0" cy="95.4" r="4.35" fill="url(#dg)" opacity="0.13"/>
<circle cx="383.0" cy="95.4" r="1.15" fill="#fff" opacity="1.0" filter="url(#bl)"/>
<circle cx="389.6" cy="100.0" r="4.5" fill="url(#dg)" opacity="0.13"/>
<circle cx="389.6" cy="100.0" r="1.3" fill="#fff" opacity="0.9" filter="url(#bl)"/>
<circle cx="345.0" cy="89.0" r="1.0" fill="#fff" opacity="0.32" filter="url(#bl)"/>
<circle cx="346.0" cy="96.0" r="1.0" fill="#fff" opacity="0.32" filter="url(#bl)"/>
<circle cx="344.4" cy="102.0" r="1.0" fill="#fff" opacity="0.32" filter="url(#bl)"/>
<circle cx="418.0" cy="104.0" r="4.65" fill="url(#dg)" opacity="0.13"/>
<circle cx="418.0" cy="104.0" r="1.45" fill="#fff" opacity="1.0" filter="url(#bl)"/>
<circle cx="429.0" cy="104.0" r="4.2" fill="url(#dg)" opacity="0.07"/>
<circle cx="429.0" cy="104.0" r="1.0" fill="#fff" opacity="0.65" filter="url(#bl)"/>
<circle cx="439.6" cy="103.0" r="4.35" fill="url(#dg)" opacity="0.07"/>
<circle cx="439.6" cy="103.0" r="1.15" fill="#fff" opacity="0.65" filter="url(#bl)"/>
<circle cx="413.0" cy="107.0" r="4.65" fill="url(#dg)" opacity="0.13"/>
<circle cx="413.0" cy="107.0" r="1.45" fill="#fff" opacity="1.0" filter="url(#bl)"/>
<circle cx="408.0" cy="113.0" r="4.5" fill="url(#dg)" opacity="0.13"/>
<circle cx="408.0" cy="113.0" r="1.3" fill="#fff" opacity="0.9" filter="url(#bl)"/>
<circle cx="412.0" cy="112.6" r="4.5" fill="url(#dg)" opacity="0.13"/>
<circle cx="412.0" cy="112.6" r="1.3" fill="#fff" opacity="1.0" filter="url(#bl)"/>
<circle cx="415.6" cy="115.4" r="4.65" fill="url(#dg)" opacity="0.13"/>
<circle cx="415.6" cy="115.4" r="1.45" fill="#fff" opacity="1.0" filter="url(#bl)"/>
<circle cx="371.0" cy="111.0" r="4.65" fill="url(#dg)" opacity="0.13"/>
<circle cx="371.0" cy="111.0" r="1.45" fill="#fff" opacity="0.9" filter="url(#bl)"/>
<circle cx="377.6" cy="110.0" r="4.35" fill="url(#dg)" opacity="0.13"/>
<circle cx="377.6" cy="110.0" r="1.15" fill="#fff" opacity="0.9" filter="url(#bl)"/>
<circle cx="375.6" cy="113.0" r="4.35" fill="url(#dg)" opacity="0.13"/>
<circle cx="375.6" cy="113.0" r="1.15" fill="#fff" opacity="0.9" filter="url(#bl)"/>
<circle cx="370.0" cy="115.0" r="4.5" fill="url(#dg)" opacity="0.13"/>
<circle cx="370.0" cy="115.0" r="1.3" fill="#fff" opacity="1.0" filter="url(#bl)"/>
<circle cx="375.0" cy="118.0" r="4.35" fill="url(#dg)" opacity="0.13"/>
<circle cx="375.0" cy="118.0" r="1.15" fill="#fff" opacity="0.9" filter="url(#bl)"/>
<circle cx="379.0" cy="116.6" r="4.5" fill="url(#dg)" opacity="0.13"/>
<circle cx="379.0" cy="116.6" r="1.3" fill="#fff" opacity="0.9" filter="url(#bl)"/>
<circle cx="388.0" cy="118.6" r="4.5" fill="url(#dg)" opacity="0.13"/>
<circle cx="388.0" cy="118.6" r="1.3" fill="#fff" opacity="1.0" filter="url(#bl)"/>
<circle cx="363.0" cy="121.0" r="4.5" fill="url(#dg)" opacity="0.13"/>
<circle cx="363.0" cy="121.0" r="1.3" fill="#fff" opacity="0.9" filter="url(#bl)"/>
<circle cx="370.0" cy="120.0" r="4.65" fill="url(#dg)" opacity="0.13"/>
<circle cx="370.0" cy="120.0" r="1.45" fill="#fff" opacity="1.0" filter="url(#bl)"/>
<circle cx="373.0" cy="122.0" r="4.65" fill="url(#dg)" opacity="0.13"/>
<circle cx="373.0" cy="122.0" r="1.45" fill="#fff" opacity="1.0" filter="url(#bl)"/>
<circle cx="384.0" cy="121.0" r="4.35" fill="url(#dg)" opacity="0.13"/>
<circle cx="384.0" cy="121.0" r="1.15" fill="#fff" opacity="1.0" filter="url(#bl)"/>
<circle cx="406.0" cy="121.0" r="4.35" fill="url(#dg)" opacity="0.13"/>
<circle cx="406.0" cy="121.0" r="1.15" fill="#fff" opacity="0.9" filter="url(#bl)"/>
<circle cx="413.0" cy="121.0" r="4.5" fill="url(#dg)" opacity="0.13"/>
<circle cx="413.0" cy="121.0" r="1.3" fill="#fff" opacity="0.9" filter="url(#bl)"/>
<circle cx="419.0" cy="122.0" r="4.5" fill="url(#dg)" opacity="0.13"/>
<circle cx="419.0" cy="122.0" r="1.3" fill="#fff" opacity="0.9" filter="url(#bl)"/>
<circle cx="367.0" cy="125.4" r="4.65" fill="url(#dg)" opacity="0.13"/>
<circle cx="367.0" cy="125.4" r="1.45" fill="#fff" opacity="0.9" filter="url(#bl)"/>
<circle cx="377.6" cy="127.4" r="4.5" fill="url(#dg)" opacity="0.13"/>
<circle cx="377.6" cy="127.4" r="1.3" fill="#fff" opacity="0.9" filter="url(#bl)"/>
<circle cx="383.0" cy="126.6" r="4.65" fill="url(#dg)" opacity="0.13"/>
<circle cx="383.0" cy="126.6" r="1.45" fill="#fff" opacity="0.9" filter="url(#bl)"/>
<circle cx="394.4" cy="127.0" r="4.35" fill="url(#dg)" opacity="0.13"/>
<circle cx="394.4" cy="127.0" r="1.15" fill="#fff" opacity="1.0" filter="url(#bl)"/>
<circle cx="410.0" cy="125.4" r="4.35" fill="url(#dg)" opacity="0.13"/>
<circle cx="410.0" cy="125.4" r="1.15" fill="#fff" opacity="1.0" filter="url(#bl)"/>
<circle cx="363.6" cy="128.6" r="4.35" fill="url(#dg)" opacity="0.13"/>
<circle cx="363.6" cy="128.6" r="1.15" fill="#fff" opacity="1.0" filter="url(#bl)"/>
<circle cx="372.0" cy="130.0" r="4.65" fill="url(#dg)" opacity="0.13"/>
<circle cx="372.0" cy="130.0" r="1.45" fill="#fff" opacity="1.0" filter="url(#bl)"/>
<circle cx="384.0" cy="131.0" r="4.5" fill="url(#dg)" opacity="0.13"/>
<circle cx="384.0" cy="131.0" r="1.3" fill="#fff" opacity="0.9" filter="url(#bl)"/>
<circle cx="390.0" cy="131.0" r="4.35" fill="url(#dg)" opacity="0.13"/>
<circle cx="390.0" cy="131.0" r="1.15" fill="#fff" opacity="0.9" filter="url(#bl)"/>
<circle cx="379.6" cy="133.0" r="4.35" fill="url(#dg)" opacity="0.13"/>
<circle cx="379.6" cy="133.0" r="1.15" fill="#fff" opacity="0.9" filter="url(#bl)"/>
<circle cx="386.0" cy="133.0" r="4.5" fill="url(#dg)" opacity="0.13"/>
<circle cx="386.0" cy="133.0" r="1.3" fill="#fff" opacity="0.9" filter="url(#bl)"/>
<circle cx="364.0" cy="134.0" r="4.35" fill="url(#dg)" opacity="0.13"/>
<circle cx="364.0" cy="134.0" r="1.15" fill="#fff" opacity="0.9" filter="url(#bl)"/>
<circle cx="436.4" cy="97.0" r="1.1" fill="#fff" opacity="0.22" filter="url(#bl)"/>
<circle cx="397.5" cy="56.0" r="1.1" fill="#fff" opacity="0.22" filter="url(#bl)"/>
<circle cx="389.2" cy="101.2" r="1.1" fill="#fff" opacity="0.22" filter="url(#bl)"/>
<circle cx="372.2" cy="114.0" r="1.1" fill="#fff" opacity="0.22" filter="url(#bl)"/>
<circle cx="442.5" cy="39.6" r="1.1" fill="#fff" opacity="0.22" filter="url(#bl)"/>
<circle cx="347.8" cy="85.0" r="1.1" fill="#fff" opacity="0.22" filter="url(#bl)"/>
<circle cx="440.9" cy="85.9" r="1.1" fill="#fff" opacity="0.22" filter="url(#bl)"/>
<circle cx="369.8" cy="79.4" r="1.1" fill="#fff" opacity="0.22" filter="url(#bl)"/>
<circle cx="409.9" cy="99.1" r="1.1" fill="#fff" opacity="0.22" filter="url(#bl)"/>
<circle cx="409.7" cy="89.0" r="1.1" fill="#fff" opacity="0.22" filter="url(#bl)"/>
<circle cx="432.2" cy="130.1" r="1.1" fill="#fff" opacity="0.22" filter="url(#bl)"/>
<circle cx="375.9" cy="56.9" r="1.1" fill="#fff" opacity="0.22" filter="url(#bl)"/>
<circle cx="368.3" cy="55.3" r="1.1" fill="#fff" opacity="0.22" filter="url(#bl)"/>
<circle cx="431.5" cy="106.7" r="1.1" fill="#fff" opacity="0.22" filter="url(#bl)"/>
</g>
<rect x="410" y="129.7" width="32" height="3" fill="#fff"/>
<rect x="20" y="139" width="103" height="104" fill="#3c3c3c"/>
<rect x="20" y="139" width="103" height="104" filter="url(#nz)"/>
<g clip-path="inset(0)">
<circle cx="69.6" cy="153.0" r="4.35" fill="url(#dg)" opacity="0.13"/>
<circle cx="69.6" cy="153.0" r="1.15" fill="#fff" opacity="1.0" filter="url(#bl)"/>
<circle cx="81.6" cy="154.0" r="4.5" fill="url(#dg)" opacity="0.13"/>
<circle cx="81.6" cy="154.0" r="1.3" fill="#fff" opacity="0.9" filter="url(#bl)"/>
<circle cx="77.6" cy="157.6" r="4.35" fill="url(#dg)" opacity="0.13"/>
<circle cx="77.6" cy="157.6" r="1.15" fill="#fff" opacity="0.9" filter="url(#bl)"/>
<circle cx="83.0" cy="157.6" r="4.35" fill="url(#dg)" opacity="0.13"/>
<circle cx="83.0" cy="157.6" r="1.15" fill="#fff" opacity="1.0" filter="url(#bl)"/>
<circle cx="76.0" cy="161.0" r="4.5" fill="url(#dg)" opacity="0.13"/>
<circle cx="76.0" cy="161.0" r="1.3" fill="#fff" opacity="0.9" filter="url(#bl)"/>
<circle cx="68.0" cy="165.6" r="4.35" fill="url(#dg)" opacity="0.13"/>
<circle cx="68.0" cy="165.6" r="1.15" fill="#fff" opacity="0.9" filter="url(#bl)"/>
<circle cx="85.6" cy="168.0" r="4.65" fill="url(#dg)" opacity="0.13"/>
<circle cx="85.6" cy="168.0" r="1.45" fill="#fff" opacity="1.0" filter="url(#bl)"/>
<circle cx="88.0" cy="169.6" r="4.65" fill="url(#dg)" opacity="0.13"/>
<circle cx="88.0" cy="169.6" r="1.45" fill="#fff" opacity="1.0" filter="url(#bl)"/>
<circle cx="74.0" cy="171.6" r="4.65" fill="url(#dg)" opacity="0.13"/>
<circle cx="74.0" cy="171.6" r="1.45" fill="#fff" opacity="0.9" filter="url(#bl)"/>
<circle cx="78.0" cy="171.6" r="4.65" fill="url(#dg)" opacity="0.13"/>
<circle cx="78.0" cy="171.6" r="1.45" fill="#fff" opacity="1.0" filter="url(#bl)"/>
<circle cx="83.6" cy="171.6" r="4.35" fill="url(#dg)" opacity="0.13"/>
<circle cx="83.6" cy="171.6" r="1.15" fill="#fff" opacity="1.0" filter="url(#bl)"/>
<circle cx="87.0" cy="182.4" r="4.35" fill="url(#dg)" opacity="0.13"/>
<circle cx="87.0" cy="182.4" r="1.15" fill="#fff" opacity="0.9" filter="url(#bl)"/>
<circle cx="82.0" cy="186.4" r="4.5" fill="url(#dg)" opacity="0.13"/>
<circle cx="82.0" cy="186.4" r="1.3" fill="#fff" opacity="1.0" filter="url(#bl)"/>
<circle cx="99.0" cy="185.6" r="4.35" fill="url(#dg)" opacity="0.13"/>
<circle cx="99.0" cy="185.6" r="1.15" fill="#fff" opacity="1.0" filter="url(#bl)"/>
<circle cx="80.0" cy="188.0" r="4.5" fill="url(#dg)" opacity="0.13"/>
<circle cx="80.0" cy="188.0" r="1.3" fill="#fff" opacity="1.0" filter="url(#bl)"/>
<circle cx="93.0" cy="188.6" r="4.65" fill="url(#dg)" opacity="0.13"/>
<circle cx="93.0" cy="188.6" r="1.45" fill="#fff" opacity="1.0" filter="url(#bl)"/>
<circle cx="75.0" cy="191.0" r="4.35" fill="url(#dg)" opacity="0.13"/>
<circle cx="75.0" cy="191.0" r="1.15" fill="#fff" opacity="0.9" filter="url(#bl)"/>
<circle cx="103.0" cy="192.4" r="4.5" fill="url(#dg)" opacity="0.13"/>
<circle cx="103.0" cy="192.4" r="1.3" fill="#fff" opacity="0.9" filter="url(#bl)"/>
<circle cx="86.4" cy="193.0" r="4.5" fill="url(#dg)" opacity="0.13"/>
<circle cx="86.4" cy="193.0" r="1.3" fill="#fff" opacity="0.9" filter="url(#bl)"/>
<circle cx="94.0" cy="197.6" r="4.35" fill="url(#dg)" opacity="0.13"/>
<circle cx="94.0" cy="197.6" r="1.15" fill="#fff" opacity="1.0" filter="url(#bl)"/>
<circle cx="84.4" cy="198.4" r="4.5" fill="url(#dg)" opacity="0.13"/>
<circle cx="84.4" cy="198.4" r="1.3" fill="#fff" opacity="0.9" filter="url(#bl)"/>
<circle cx="81.0" cy="199.0" r="4.5" fill="url(#dg)" opacity="0.13"/>
<circle cx="81.0" cy="199.0" r="1.3" fill="#fff" opacity="1.0" filter="url(#bl)"/>
<circle cx="53.0" cy="203.0" r="4.65" fill="url(#dg)" opacity="0.13"/>
<circle cx="53.0" cy="203.0" r="1.45" fill="#fff" opacity="0.9" filter="url(#bl)"/>
<circle cx="48.0" cy="205.6" r="4.35" fill="url(#dg)" opacity="0.13"/>
<circle cx="48.0" cy="205.6" r="1.15" fill="#fff" opacity="0.9" filter="url(#bl)"/>
<circle cx="61.6" cy="212.0" r="4.35" fill="url(#dg)" opacity="0.13"/>
<circle cx="61.6" cy="212.0" r="1.15" fill="#fff" opacity="1.0" filter="url(#bl)"/>
<circle cx="59.6" cy="214.0" r="4.35" fill="url(#dg)" opacity="0.13"/>
<circle cx="59.6" cy="214.0" r="1.15" fill="#fff" opacity="0.9" filter="url(#bl)"/>
<circle cx="46.0" cy="217.6" r="4.5" fill="url(#dg)" opacity="0.13"/>
<circle cx="46.0" cy="217.6" r="1.3" fill="#fff" opacity="0.9" filter="url(#bl)"/>
<circle cx="55.0" cy="217.0" r="4.5" fill="url(#dg)" opacity="0.13"/>
<circle cx="55.0" cy="217.0" r="1.3" fill="#fff" opacity="0.9" filter="url(#bl)"/>
<circle cx="68.0" cy="216.0" r="4.5" fill="url(#dg)" opacity="0.13"/>
<circle cx="68.0" cy="216.0" r="1.3" fill="#fff" opacity="1.0" filter="url(#bl)"/>
<circle cx="68.0" cy="225.0" r="4.65" fill="url(#dg)" opacity="0.13"/>
<circle cx="68.0" cy="225.0" r="1.45" fill="#fff" opacity="0.9" filter="url(#bl)"/>
<circle cx="60.0" cy="226.4" r="4.35" fill="url(#dg)" opacity="0.13"/>
<circle cx="60.0" cy="226.4" r="1.15" fill="#fff" opacity="0.9" filter="url(#bl)"/>
<circle cx="51.6" cy="228.0" r="4.65" fill="url(#dg)" opacity="0.13"/>
<circle cx="51.6" cy="228.0" r="1.45" fill="#fff" opacity="1.0" filter="url(#bl)"/>
<circle cx="60.0" cy="231.0" r="4.5" fill="url(#dg)" opacity="0.13"/>
<circle cx="60.0" cy="231.0" r="1.3" fill="#fff" opacity="1.0" filter="url(#bl)"/>
<circle cx="38.4" cy="233.0" r="4.35" fill="url(#dg)" opacity="0.13"/>
<circle cx="38.4" cy="233.0" r="1.15" fill="#fff" opacity="1.0" filter="url(#bl)"/>
<circle cx="93.2" cy="205.0" r="1.1" fill="#fff" opacity="0.22" filter="url(#bl)"/>
<circle cx="27.2" cy="223.9" r="1.1" fill="#fff" opacity="0.22" filter="url(#bl)"/>
<circle cx="109.5" cy="203.5" r="1.1" fill="#fff" opacity="0.22" filter="url(#bl)"/>
<circle cx="94.2" cy="221.6" r="1.1" fill="#fff" opacity="0.22" filter="url(#bl)"/>
<circle cx="36.5" cy="193.3" r="1.1" fill="#fff" opacity="0.22" filter="url(#bl)"/>
<circle cx="71.9" cy="223.8" r="1.1" fill="#fff" opacity="0.22" filter="url(#bl)"/>
<circle cx="101.1" cy="223.0" r="1.1" fill="#fff" opacity="0.22" filter="url(#bl)"/>
<circle cx="79.7" cy="229.5" r="1.1" fill="#fff" opacity="0.22" filter="url(#bl)"/>
<circle cx="89.2" cy="209.9" r="1.1" fill="#fff" opacity="0.22" filter="url(#bl)"/>
<circle cx="45.3" cy="145.1" r="1.1" fill="#fff" opacity="0.22" filter="url(#bl)"/>
<circle cx="35.9" cy="177.3" r="1.1" fill="#fff" opacity="0.22" filter="url(#bl)"/>
<circle cx="33.2" cy="223.9" r="1.1" fill="#fff" opacity="0.22" filter="url(#bl)"/>
<circle cx="77.2" cy="203.5" r="1.1" fill="#fff" opacity="0.22" filter="url(#bl)"/>
<circle cx="83.7" cy="208.7" r="1.1" fill="#fff" opacity="0.22" filter="url(#bl)"/>
</g>
<rect x="87" y="236.7" width="32" height="3" fill="#fff"/>
<rect x="128" y="139" width="102" height="104" fill="#3c3c3c"/>
<rect x="128" y="139" width="102" height="104" filter="url(#nz)"/>
<g clip-path="inset(0)">
<circle cx="182.0" cy="159.0" r="4.35" fill="url(#dg)" opacity="0.07"/>
<circle cx="182.0" cy="159.0" r="1.15" fill="#fff" opacity="0.65" filter="url(#bl)"/>
<circle cx="184.6" cy="160.4" r="4.35" fill="url(#dg)" opacity="0.07"/>
<circle cx="184.6" cy="160.4" r="1.15" fill="#fff" opacity="0.65" filter="url(#bl)"/>
<circle cx="168.0" cy="163.0" r="4.2" fill="url(#dg)" opacity="0.07"/>
<circle cx="168.0" cy="163.0" r="1.0" fill="#fff" opacity="0.65" filter="url(#bl)"/>
<circle cx="180.6" cy="163.6" r="4.35" fill="url(#dg)" opacity="0.07"/>
<circle cx="180.6" cy="163.6" r="1.15" fill="#fff" opacity="0.65" filter="url(#bl)"/>
<circle cx="177.4" cy="165.6" r="4.2" fill="url(#dg)" opacity="0.07"/>
<circle cx="177.4" cy="165.6" r="1.0" fill="#fff" opacity="0.65" filter="url(#bl)"/>
<circle cx="134.0" cy="168.4" r="4.2" fill="url(#dg)" opacity="0.07"/>
<circle cx="134.0" cy="168.4" r="1.0" fill="#fff" opacity="0.65" filter="url(#bl)"/>
<circle cx="151.4" cy="170.4" r="1.0" fill="#fff" opacity="0.32" filter="url(#bl)"/>
<circle cx="182.6" cy="171.0" r="1.0" fill="#fff" opacity="0.32" filter="url(#bl)"/>
<circle cx="162.0" cy="173.0" r="1.0" fill="#fff" opacity="0.32" filter="url(#bl)"/>
<circle cx="154.6" cy="177.0" r="1.0" fill="#fff" opacity="0.32" filter="url(#bl)"/>
<circle cx="171.0" cy="178.0" r="4.65" fill="url(#dg)" opacity="0.13"/>
<circle cx="171.0" cy="178.0" r="1.45" fill="#fff" opacity="0.9" filter="url(#bl)"/>
<circle cx="188.0" cy="177.6" r="4.65" fill="url(#dg)" opacity="0.13"/>
<circle cx="188.0" cy="177.6" r="1.45" fill="#fff" opacity="1.0" filter="url(#bl)"/>
<circle cx="196.6" cy="179.0" r="5.1" fill="url(#dg)" opacity="0.22"/>
<circle cx="196.6" cy="179.0" r="1.9" fill="#fff" opacity="1.0" filter="url(#bl)"/>
<circle cx="209.0" cy="177.6" r="4.5" fill="url(#dg)" opacity="0.13"/>
<circle cx="209.0" cy="177.6" r="1.3" fill="#fff" opacity="0.9" filter="url(#bl)"/>
<circle cx="214.0" cy="180.0" r="4.35" fill="url(#dg)" opacity="0.07"/>
<circle cx="214.0" cy="180.0" r="1.15" fill="#fff" opacity="0.65" filter="url(#bl)"/>
<circle cx="142.0" cy="181.0" r="4.2" fill="url(#dg)" opacity="0.07"/>
<circle cx="142.0" cy="181.0" r="1.0" fill="#fff" opacity="0.65" filter="url(#bl)"/>
<circle cx="197.0" cy="186.4" r="4.2" fill="url(#dg)" opacity="0.07"/>
<circle cx="197.0" cy="186.4" r="1.0" fill="#fff" opacity="0.65" filter="url(#bl)"/>
<circle cx="205.0" cy="186.4" r="4.2" fill="url(#dg)" opacity="0.07"/>
<circle cx="205.0" cy="186.4" r="1.0" fill="#fff" opacity="0.65" filter="url(#bl)"/>
<circle cx="217.0" cy="188.0" r="5.1" fill="url(#dg)" opacity="0.22"/>
<circle cx="217.0" cy="188.0" r="1.9" fill="#fff" opacity="1.0" filter="url(#bl)"/>
<circle cx="224.0" cy="186.0" r="1.0" fill="#fff" opacity="0.32" filter="url(#bl)"/>
<circle cx="153.0" cy="188.0" r="1.0" fill="#fff" opacity="0.32" filter="url(#bl)"/>
<circle cx="177.4" cy="190.4" r="4.35" fill="url(#dg)" opacity="0.07"/>
<circle cx="177.4" cy="190.4" r="1.15" fill="#fff" opacity="0.65" filter="url(#bl)"/>
<circle cx="203.0" cy="190.4" r="4.35" fill="url(#dg)" opacity="0.07"/>
<circle cx="203.0" cy="190.4" r="1.15" fill="#fff" opacity="0.65" filter="url(#bl)"/>
<circle cx="174.0" cy="193.0" r="4.5" fill="url(#dg)" opacity="0.13"/>
<circle cx="174.0" cy="193.0" r="1.3" fill="#fff" opacity="0.9" filter="url(#bl)"/>
<circle cx="195.4" cy="193.0" r="4.5" fill="url(#dg)" opacity="0.13"/>
<circle cx="195.4" cy="193.0" r="1.3" fill="#fff" opacity="1.0" filter="url(#bl)"/>
<circle cx="158.0" cy="196.0" r="1.0" fill="#fff" opacity="0.32" filter="url(#bl)"/>
<circle cx="214.6" cy="197.6" r="4.35" fill="url(#dg)" opacity="0.13"/>
<circle cx="214.6" cy="197.6" r="1.15" fill="#fff" opacity="0.9" filter="url(#bl)"/>
<circle cx="204.0" cy="202.0" r="4.35" fill="url(#dg)" opacity="0.13"/>
<circle cx="204.0" cy="202.0" r="1.15" fill="#fff" opacity="0.9" filter="url(#bl)"/>
<circle cx="207.0" cy="202.0" r="4.5" fill="url(#dg)" opacity="0.13"/>
<circle cx="207.0" cy="202.0" r="1.3" fill="#fff" opacity="1.0" filter="url(#bl)"/>
<circle cx="218.6" cy="202.4" r="4.65" fill="url(#dg)" opacity="0.13"/>
<circle cx="218.6" cy="202.4" r="1.45" fill="#fff" opacity="1.0" filter="url(#bl)"/>
<circle cx="159.0" cy="205.0" r="1.0" fill="#fff" opacity="0.32" filter="url(#bl)"/>
<circle cx="169.4" cy="203.6" r="1.0" fill="#fff" opacity="0.32" filter="url(#bl)"/>
<circle cx="183.0" cy="205.0" r="1.0" fill="#fff" opacity="0.32" filter="url(#bl)"/>
<circle cx="213.4" cy="213.6" r="4.65" fill="url(#dg)" opacity="0.13"/>
<circle cx="213.4" cy="213.6" r="1.45" fill="#fff" opacity="0.9" filter="url(#bl)"/>
<circle cx="208.0" cy="219.0" r="4.35" fill="url(#dg)" opacity="0.13"/>
<circle cx="208.0" cy="219.0" r="1.15" fill="#fff" opacity="1.0" filter="url(#bl)"/>
<circle cx="225.4" cy="220.0" r="5.1" fill="url(#dg)" opacity="0.22"/>
<circle cx="225.4" cy="220.0" r="1.9" fill="#fff" opacity="1.0" filter="url(#bl)"/>
<circle cx="196.0" cy="227.6" r="4.2" fill="url(#dg)" opacity="0.07"/>
<circle cx="196.0" cy="227.6" r="1.0" fill="#fff" opacity="0.65" filter="url(#bl)"/>
<circle cx="208.0" cy="228.0" r="4.5" fill="url(#dg)" opacity="0.13"/>
<circle cx="208.0" cy="228.0" r="1.3" fill="#fff" opacity="1.0" filter="url(#bl)"/>
<circle cx="224.4" cy="151.8" r="1.1" fill="#fff" opacity="0.22" filter="url(#bl)"/>
<circle cx="151.9" cy="190.0" r="1.1" fill="#fff" opacity="0.22" filter="url(#bl)"/>
<circle cx="199.1" cy="170.0" r="1.1" fill="#fff" opacity="0.22" filter="url(#bl)"/>
<circle cx="175.7" cy="217.2" r="1.1" fill="#fff" opacity="0.22" filter="url(#bl)"/>
<circle cx="226.4" cy="195.8" r="1.1" fill="#fff" opacity="0.22" filter="url(#bl)"/>
<circle cx="160.9" cy="150.4" r="1.1" fill="#fff" opacity="0.22" filter="url(#bl)"/>
<circle cx="176.4" cy="170.4" r="1.1" fill="#fff" opacity="0.22" filter="url(#bl)"/>
<circle cx="138.3" cy="191.6" r="1.1" fill="#fff" opacity="0.22" filter="url(#bl)"/>
<circle cx="226.5" cy="239.4" r="1.1" fill="#fff" opacity="0.22" filter="url(#bl)"/>
<circle cx="168.1" cy="231.8" r="1.1" fill="#fff" opacity="0.22" filter="url(#bl)"/>
<circle cx="220.3" cy="149.3" r="1.1" fill="#fff" opacity="0.22" filter="url(#bl)"/>
<circle cx="139.7" cy="215.3" r="1.1" fill="#fff" opacity="0.22" filter="url(#bl)"/>
<circle cx="156.1" cy="177.2" r="1.1" fill="#fff" opacity="0.22" filter="url(#bl)"/>
<circle cx="188.9" cy="203.9" r="1.1" fill="#fff" opacity="0.22" filter="url(#bl)"/>
</g>
<rect x="194" y="236.7" width="32" height="3" fill="#fff"/>
<rect x="235" y="139" width="103" height="104" fill="#3c3c3c"/>
<rect x="235" y="139" width="103" height="104" filter="url(#nz)"/>
<g clip-path="inset(0)">
<circle cx="247.6" cy="157.6" r="4.5" fill="url(#dg)" opacity="0.13"/>
<circle cx="247.6" cy="157.6" r="1.3" fill="#fff" opacity="0.9" filter="url(#bl)"/>
<circle cx="252.4" cy="158.4" r="4.65" fill="url(#dg)" opacity="0.13"/>
<circle cx="252.4" cy="158.4" r="1.45" fill="#fff" opacity="1.0" filter="url(#bl)"/>
<circle cx="261.6" cy="154.4" r="4.35" fill="url(#dg)" opacity="0.13"/>
<circle cx="261.6" cy="154.4" r="1.15" fill="#fff" opacity="1.0" filter="url(#bl)"/>
<circle cx="263.6" cy="156.0" r="4.5" fill="url(#dg)" opacity="0.13"/>
<circle cx="263.6" cy="156.0" r="1.3" fill="#fff" opacity="1.0" filter="url(#bl)"/>
<circle cx="260.0" cy="160.4" r="4.35" fill="url(#dg)" opacity="0.13"/>
<circle cx="260.0" cy="160.4" r="1.15" fill="#fff" opacity="0.9" filter="url(#bl)"/>
<circle cx="264.0" cy="159.0" r="4.35" fill="url(#dg)" opacity="0.13"/>
<circle cx="264.0" cy="159.0" r="1.15" fill="#fff" opacity="1.0" filter="url(#bl)"/>
<circle cx="274.4" cy="157.0" r="4.65" fill="url(#dg)" opacity="0.13"/>
<circle cx="274.4" cy="157.0" r="1.45" fill="#fff" opacity="1.0" filter="url(#bl)"/>
<circle cx="279.0" cy="163.0" r="4.5" fill="url(#dg)" opacity="0.13"/>
<circle cx="279.0" cy="163.0" r="1.3" fill="#fff" opacity="1.0" filter="url(#bl)"/>
<circle cx="245.6" cy="165.0" r="4.65" fill="url(#dg)" opacity="0.13"/>
<circle cx="245.6" cy="165.0" r="1.45" fill="#fff" opacity="0.9" filter="url(#bl)"/>
<circle cx="247.6" cy="164.0" r="4.5" fill="url(#dg)" opacity="0.13"/>
<circle cx="247.6" cy="164.0" r="1.3" fill="#fff" opacity="1.0" filter="url(#bl)"/>
<circle cx="250.0" cy="166.0" r="4.5" fill="url(#dg)" opacity="0.13"/>
<circle cx="250.0" cy="166.0" r="1.3" fill="#fff" opacity="1.0" filter="url(#bl)"/>
<circle cx="252.4" cy="165.6" r="4.35" fill="url(#dg)" opacity="0.13"/>
<circle cx="252.4" cy="165.6" r="1.15" fill="#fff" opacity="1.0" filter="url(#bl)"/>
<circle cx="262.0" cy="165.0" r="4.35" fill="url(#dg)" opacity="0.13"/>
<circle cx="262.0" cy="165.0" r="1.15" fill="#fff" opacity="1.0" filter="url(#bl)"/>
<circle cx="265.6" cy="166.4" r="4.5" fill="url(#dg)" opacity="0.13"/>
<circle cx="265.6" cy="166.4" r="1.3" fill="#fff" opacity="1.0" filter="url(#bl)"/>
<circle cx="275.0" cy="167.0" r="4.35" fill="url(#dg)" opacity="0.13"/>
<circle cx="275.0" cy="167.0" r="1.15" fill="#fff" opacity="0.9" filter="url(#bl)"/>
<circle cx="272.0" cy="169.6" r="4.65" fill="url(#dg)" opacity="0.13"/>
<circle cx="272.0" cy="169.6" r="1.45" fill="#fff" opacity="0.9" filter="url(#bl)"/>
<circle cx="275.0" cy="171.6" r="4.65" fill="url(#dg)" opacity="0.13"/>
<circle cx="275.0" cy="171.6" r="1.45" fill="#fff" opacity="1.0" filter="url(#bl)"/>
<circle cx="245.6" cy="169.0" r="4.5" fill="url(#dg)" opacity="0.13"/>
<circle cx="245.6" cy="169.0" r="1.3" fill="#fff" opacity="1.0" filter="url(#bl)"/>
<circle cx="254.0" cy="171.6" r="4.35" fill="url(#dg)" opacity="0.13"/>
<circle cx="254.0" cy="171.6" r="1.15" fill="#fff" opacity="1.0" filter="url(#bl)"/>
<circle cx="256.4" cy="174.0" r="4.5" fill="url(#dg)" opacity="0.13"/>
<circle cx="256.4" cy="174.0" r="1.3" fill="#fff" opacity="0.9" filter="url(#bl)"/>
<circle cx="264.0" cy="173.0" r="4.5" fill="url(#dg)" opacity="0.13"/>
<circle cx="264.0" cy="173.0" r="1.3" fill="#fff" opacity="1.0" filter="url(#bl)"/>
<circle cx="253.0" cy="176.4" r="4.5" fill="url(#dg)" opacity="0.13"/>
<circle cx="253.0" cy="176.4" r="1.3" fill="#fff" opacity="0.9" filter="url(#bl)"/>
<circle cx="259.0" cy="176.4" r="4.5" fill="url(#dg)" opacity="0.13"/>
<circle cx="259.0" cy="176.4" r="1.3" fill="#fff" opacity="0.9" filter="url(#bl)"/>
<circle cx="241.6" cy="176.4" r="4.35" fill="url(#dg)" opacity="0.13"/>
<circle cx="241.6" cy="176.4" r="1.15" fill="#fff" opacity="1.0" filter="url(#bl)"/>
<circle cx="246.4" cy="178.4" r="4.65" fill="url(#dg)" opacity="0.13"/>
<circle cx="246.4" cy="178.4" r="1.45" fill="#fff" opacity="0.9" filter="url(#bl)"/>
<circle cx="276.4" cy="177.0" r="4.35" fill="url(#dg)" opacity="0.13"/>
<circle cx="276.4" cy="177.0" r="1.15" fill="#fff" opacity="1.0" filter="url(#bl)"/>
<circle cx="287.6" cy="204.0" r="4.5" fill="url(#dg)" opacity="0.13"/>
<circle cx="287.6" cy="204.0" r="1.3" fill="#fff" opacity="1.0" filter="url(#bl)"/>
<circle cx="283.6" cy="207.6" r="4.35" fill="url(#dg)" opacity="0.13"/>
<circle cx="283.6" cy="207.6" r="1.15" fill="#fff" opacity="1.0" filter="url(#bl)"/>
<circle cx="289.0" cy="208.0" r="4.5" fill="url(#dg)" opacity="0.13"/>
<circle cx="289.0" cy="208.0" r="1.3" fill="#fff" opacity="0.9" filter="url(#bl)"/>
<circle cx="292.0" cy="210.0" r="4.65" fill="url(#dg)" opacity="0.13"/>
<circle cx="292.0" cy="210.0" r="1.45" fill="#fff" opacity="1.0" filter="url(#bl)"/>
<circle cx="277.0" cy="211.0" r="4.65" fill="url(#dg)" opacity="0.13"/>
<circle cx="277.0" cy="211.0" r="1.45" fill="#fff" opacity="0.9" filter="url(#bl)"/>
<circle cx="283.0" cy="212.4" r="4.65" fill="url(#dg)" opacity="0.13"/>
<circle cx="283.0" cy="212.4" r="1.45" fill="#fff" opacity="0.9" filter="url(#bl)"/>
<circle cx="295.6" cy="213.0" r="4.35" fill="url(#dg)" opacity="0.13"/>
<circle cx="295.6" cy="213.0" r="1.15" fill="#fff" opacity="1.0" filter="url(#bl)"/>
<circle cx="287.0" cy="215.0" r="4.5" fill="url(#dg)" opacity="0.13"/>
<circle cx="287.0" cy="215.0" r="1.3" fill="#fff" opacity="0.9" filter="url(#bl)"/>
<circle cx="292.0" cy="215.0" r="4.65" fill="url(#dg)" opacity="0.13"/>
<circle cx="292.0" cy="215.0" r="1.45" fill="#fff" opacity="1.0" filter="url(#bl)"/>
<circle cx="279.6" cy="219.6" r="4.5" fill="url(#dg)" opacity="0.13"/>
<circle cx="279.6" cy="219.6" r="1.3" fill="#fff" opacity="0.9" filter="url(#bl)"/>
<circle cx="285.6" cy="219.0" r="4.65" fill="url(#dg)" opacity="0.13"/>
<circle cx="285.6" cy="219.0" r="1.45" fill="#fff" opacity="0.9" filter="url(#bl)"/>
<circle cx="293.0" cy="221.0" r="4.35" fill="url(#dg)" opacity="0.13"/>
<circle cx="293.0" cy="221.0" r="1.15" fill="#fff" opacity="1.0" filter="url(#bl)"/>
<circle cx="290.0" cy="223.0" r="4.5" fill="url(#dg)" opacity="0.13"/>
<circle cx="290.0" cy="223.0" r="1.3" fill="#fff" opacity="1.0" filter="url(#bl)"/>
<circle cx="277.6" cy="223.6" r="4.5" fill="url(#dg)" opacity="0.13"/>
<circle cx="277.6" cy="223.6" r="1.3" fill="#fff" opacity="1.0" filter="url(#bl)"/>
<circle cx="286.4" cy="226.4" r="4.5" fill="url(#dg)" opacity="0.13"/>
<circle cx="286.4" cy="226.4" r="1.3" fill="#fff" opacity="1.0" filter="url(#bl)"/>
<circle cx="308.0" cy="200.0" r="4.5" fill="url(#dg)" opacity="0.13"/>
<circle cx="308.0" cy="200.0" r="1.3" fill="#fff" opacity="0.9" filter="url(#bl)"/>
<circle cx="318.0" cy="198.4" r="4.5" fill="url(#dg)" opacity="0.13"/>
<circle cx="318.0" cy="198.4" r="1.3" fill="#fff" opacity="1.0" filter="url(#bl)"/>
<circle cx="326.0" cy="198.0" r="4.65" fill="url(#dg)" opacity="0.13"/>
<circle cx="326.0" cy="198.0" r="1.45" fill="#fff" opacity="1.0" filter="url(#bl)"/>
<circle cx="312.0" cy="202.4" r="4.35" fill="url(#dg)" opacity="0.13"/>
<circle cx="312.0" cy="202.4" r="1.15" fill="#fff" opacity="0.9" filter="url(#bl)"/>
<circle cx="320.4" cy="203.6" r="4.65" fill="url(#dg)" opacity="0.13"/>
<circle cx="320.4" cy="203.6" r="1.45" fill="#fff" opacity="0.9" filter="url(#bl)"/>
<circle cx="329.6" cy="202.0" r="4.35" fill="url(#dg)" opacity="0.13"/>
<circle cx="329.6" cy="202.0" r="1.15" fill="#fff" opacity="0.9" filter="url(#bl)"/>
<circle cx="307.6" cy="206.0" r="4.65" fill="url(#dg)" opacity="0.13"/>
<circle cx="307.6" cy="206.0" r="1.45" fill="#fff" opacity="1.0" filter="url(#bl)"/>
<circle cx="317.0" cy="206.0" r="4.65" fill="url(#dg)" opacity="0.13"/>
<circle cx="317.0" cy="206.0" r="1.45" fill="#fff" opacity="0.9" filter="url(#bl)"/>
<circle cx="326.4" cy="205.0" r="4.5" fill="url(#dg)" opacity="0.13"/>
<circle cx="326.4" cy="205.0" r="1.3" fill="#fff" opacity="1.0" filter="url(#bl)"/>
<circle cx="332.0" cy="205.6" r="4.5" fill="url(#dg)" opacity="0.13"/>
<circle cx="332.0" cy="205.6" r="1.3" fill="#fff" opacity="1.0" filter="url(#bl)"/>
<circle cx="313.6" cy="208.4" r="4.35" fill="url(#dg)" opacity="0.13"/>
<circle cx="313.6" cy="208.4" r="1.15" fill="#fff" opacity="0.9" filter="url(#bl)"/>
<circle cx="322.0" cy="208.0" r="4.35" fill="url(#dg)" opacity="0.13"/>
<circle cx="322.0" cy="208.0" r="1.15" fill="#fff" opacity="0.9" filter="url(#bl)"/>
<circle cx="325.6" cy="209.6" r="4.35" fill="url(#dg)" opacity="0.13"/>
<circle cx="325.6" cy="209.6" r="1.15" fill="#fff" opacity="1.0" filter="url(#bl)"/>
<circle cx="331.0" cy="210.0" r="4.65" fill="url(#dg)" opacity="0.13"/>
<circle cx="331.0" cy="210.0" r="1.45" fill="#fff" opacity="0.9" filter="url(#bl)"/>
<circle cx="336.0" cy="208.4" r="4.5" fill="url(#dg)" opacity="0.13"/>
<circle cx="336.0" cy="208.4" r="1.3" fill="#fff" opacity="0.9" filter="url(#bl)"/>
<circle cx="306.4" cy="211.0" r="4.5" fill="url(#dg)" opacity="0.13"/>
<circle cx="306.4" cy="211.0" r="1.3" fill="#fff" opacity="1.0" filter="url(#bl)"/>
<circle cx="316.0" cy="212.0" r="4.65" fill="url(#dg)" opacity="0.13"/>
<circle cx="316.0" cy="212.0" r="1.45" fill="#fff" opacity="0.9" filter="url(#bl)"/>
<circle cx="320.4" cy="213.0" r="4.35" fill="url(#dg)" opacity="0.13"/>
<circle cx="320.4" cy="213.0" r="1.15" fill="#fff" opacity="1.0" filter="url(#bl)"/>
<circle cx="329.6" cy="212.0" r="4.5" fill="url(#dg)" opacity="0.13"/>
<circle cx="329.6" cy="212.0" r="1.3" fill="#fff" opacity="1.0" filter="url(#bl)"/>
<circle cx="308.4" cy="216.4" r="4.65" fill="url(#dg)" opacity="0.13"/>
<circle cx="308.4" cy="216.4" r="1.45" fill="#fff" opacity="0.9" filter="url(#bl)"/>
<circle cx="325.0" cy="217.0" r="4.5" fill="url(#dg)" opacity="0.13"/>
<circle cx="325.0" cy="217.0" r="1.3" fill="#fff" opacity="1.0" filter="url(#bl)"/>
<circle cx="330.0" cy="216.4" r="4.5" fill="url(#dg)" opacity="0.13"/>
<circle cx="330.0" cy="216.4" r="1.3" fill="#fff" opacity="0.9" filter="url(#bl)"/>
<circle cx="318.0" cy="219.6" r="4.5" fill="url(#dg)" opacity="0.13"/>
<circle cx="318.0" cy="219.6" r="1.3" fill="#fff" opacity="1.0" filter="url(#bl)"/>
<circle cx="320.4" cy="221.0" r="4.65" fill="url(#dg)" opacity="0.13"/>
<circle cx="320.4" cy="221.0" r="1.45" fill="#fff" opacity="1.0" filter="url(#bl)"/>
<circle cx="250.2" cy="191.3" r="1.1" fill="#fff" opacity="0.22" filter="url(#bl)"/>
<circle cx="299.1" cy="226.6" r="1.1" fill="#fff" opacity="0.22" filter="url(#bl)"/>
<circle cx="258.9" cy="168.6" r="1.1" fill="#fff" opacity="0.22" filter="url(#bl)"/>
<circle cx="262.1" cy="181.2" r="1.1" fill="#fff" opacity="0.22" filter="url(#bl)"/>
<circle cx="281.2" cy="235.5" r="1.1" fill="#fff" opacity="0.22" filter="url(#bl)"/>
<circle cx="320.3" cy="227.5" r="1.1" fill="#fff" opacity="0.22" filter="url(#bl)"/>
<circle cx="240.1" cy="145.2" r="1.1" fill="#fff" opacity="0.22" filter="url(#bl)"/>
<circle cx="306.8" cy="229.8" r="1.1" fill="#fff" opacity="0.22" filter="url(#bl)"/>
<circle cx="283.9" cy="199.5" r="1.1" fill="#fff" opacity="0.22" filter="url(#bl)"/>
<circle cx="238.0" cy="180.4" r="1.1" fill="#fff" opacity="0.22" filter="url(#bl)"/>
<circle cx="327.9" cy="222.9" r="1.1" fill="#fff" opacity="0.22" filter="url(#bl)"/>
<circle cx="321.0" cy="237.3" r="1.1" fill="#fff" opacity="0.22" filter="url(#bl)"/>
<circle cx="262.1" cy="152.7" r="1.1" fill="#fff" opacity="0.22" filter="url(#bl)"/>
<circle cx="253.0" cy="193.2" r="1.1" fill="#fff" opacity="0.22" filter="url(#bl)"/>
</g>
<rect x="302" y="236.7" width="32" height="3" fill="#fff"/>
<rect x="343" y="139" width="103" height="104" fill="#3c3c3c"/>
<rect x="343" y="139" width="103" height="104" filter="url(#nz)"/>
<g clip-path="inset(0)">
<circle cx="346.4" cy="143.6" r="4.65" fill="url(#dg)" opacity="0.13"/>
<circle cx="346.4" cy="143.6" r="1.45" fill="#fff" opacity="0.9" filter="url(#bl)"/>
<circle cx="356.0" cy="143.0" r="4.65" fill="url(#dg)" opacity="0.13"/>
<circle cx="356.0" cy="143.0" r="1.45" fill="#fff" opacity="1.0" filter="url(#bl)"/>
<circle cx="352.4" cy="147.0" r="4.35" fill="url(#dg)" opacity="0.13"/>
<circle cx="352.4" cy="147.0" r="1.15" fill="#fff" opacity="0.9" filter="url(#bl)"/>
<circle cx="430.0" cy="172.4" r="4.35" fill="url(#dg)" opacity="0.13"/>
<circle cx="430.0" cy="172.4" r="1.15" fill="#fff" opacity="0.9" filter="url(#bl)"/>
<circle cx="436.0" cy="169.6" r="4.35" fill="url(#dg)" opacity="0.13"/>
<circle cx="436.0" cy="169.6" r="1.15" fill="#fff" opacity="0.9" filter="url(#bl)"/>
<circle cx="441.6" cy="181.6" r="4.65" fill="url(#dg)" opacity="0.13"/>
<circle cx="441.6" cy="181.6" r="1.45" fill="#fff" opacity="1.0" filter="url(#bl)"/>
<circle cx="429.6" cy="184.4" r="4.35" fill="url(#dg)" opacity="0.13"/>
<circle cx="429.6" cy="184.4" r="1.15" fill="#fff" opacity="1.0" filter="url(#bl)"/>
<circle cx="445.0" cy="188.4" r="4.65" fill="url(#dg)" opacity="0.13"/>
<circle cx="445.0" cy="188.4" r="1.45" fill="#fff" opacity="1.0" filter="url(#bl)"/>
<circle cx="395.0" cy="179.6" r="4.65" fill="url(#dg)" opacity="0.13"/>
<circle cx="395.0" cy="179.6" r="1.45" fill="#fff" opacity="0.9" filter="url(#bl)"/>
<circle cx="396.4" cy="185.0" r="4.35" fill="url(#dg)" opacity="0.13"/>
<circle cx="396.4" cy="185.0" r="1.15" fill="#fff" opacity="0.9" filter="url(#bl)"/>
<circle cx="381.6" cy="183.6" r="4.5" fill="url(#dg)" opacity="0.13"/>
<circle cx="381.6" cy="183.6" r="1.3" fill="#fff" opacity="0.9" filter="url(#bl)"/>
<circle cx="385.0" cy="187.6" r="5.1" fill="url(#dg)" opacity="0.22"/>
<circle cx="385.0" cy="187.6" r="1.9" fill="#fff" opacity="1.0" filter="url(#bl)"/>
<circle cx="395.6" cy="190.4" r="4.5" fill="url(#dg)" opacity="0.13"/>
<circle cx="395.6" cy="190.4" r="1.3" fill="#fff" opacity="1.0" filter="url(#bl)"/>
<circle cx="381.6" cy="188.0" r="4.35" fill="url(#dg)" opacity="0.13"/>
<circle cx="381.6" cy="188.0" r="1.15" fill="#fff" opacity="0.9" filter="url(#bl)"/>
<circle cx="383.0" cy="193.6" r="4.35" fill="url(#dg)" opacity="0.13"/>
<circle cx="383.0" cy="193.6" r="1.15" fill="#fff" opacity="1.0" filter="url(#bl)"/>
<circle cx="387.6" cy="194.4" r="4.5" fill="url(#dg)" opacity="0.13"/>
<circle cx="387.6" cy="194.4" r="1.3" fill="#fff" opacity="1.0" filter="url(#bl)"/>
<circle cx="357.0" cy="182.4" r="4.35" fill="url(#dg)" opacity="0.07"/>
<circle cx="357.0" cy="182.4" r="1.15" fill="#fff" opacity="0.65" filter="url(#bl)"/>
<circle cx="357.0" cy="190.0" r="4.2" fill="url(#dg)" opacity="0.07"/>
<circle cx="357.0" cy="190.0" r="1.0" fill="#fff" opacity="0.65" filter="url(#bl)"/>
<circle cx="359.0" cy="199.0" r="4.35" fill="url(#dg)" opacity="0.07"/>
<circle cx="359.0" cy="199.0" r="1.15" fill="#fff" opacity="0.65" filter="url(#bl)"/>
<circle cx="363.0" cy="205.0" r="4.2" fill="url(#dg)" opacity="0.07"/>
<circle cx="363.0" cy="205.0" r="1.0" fill="#fff" opacity="0.65" filter="url(#bl)"/>
<circle cx="388.4" cy="210.4" r="4.65" fill="url(#dg)" opacity="0.13"/>
<circle cx="388.4" cy="210.4" r="1.45" fill="#fff" opacity="0.9" filter="url(#bl)"/>
<circle cx="390.0" cy="214.0" r="4.35" fill="url(#dg)" opacity="0.13"/>
<circle cx="390.0" cy="214.0" r="1.15" fill="#fff" opacity="1.0" filter="url(#bl)"/>
<circle cx="395.6" cy="210.4" r="4.65" fill="url(#dg)" opacity="0.13"/>
<circle cx="395.6" cy="210.4" r="1.45" fill="#fff" opacity="1.0" filter="url(#bl)"/>
<circle cx="395.6" cy="214.0" r="4.35" fill="url(#dg)" opacity="0.13"/>
<circle cx="395.6" cy="214.0" r="1.15" fill="#fff" opacity="0.9" filter="url(#bl)"/>
<circle cx="383.0" cy="217.0" r="4.2" fill="url(#dg)" opacity="0.07"/>
<circle cx="383.0" cy="217.0" r="1.0" fill="#fff" opacity="0.65" filter="url(#bl)"/>
<circle cx="386.4" cy="219.0" r="4.35" fill="url(#dg)" opacity="0.07"/>
<circle cx="386.4" cy="219.0" r="1.15" fill="#fff" opacity="0.65" filter="url(#bl)"/>
<circle cx="366.0" cy="222.0" r="4.65" fill="url(#dg)" opacity="0.13"/>
<circle cx="366.0" cy="222.0" r="1.45" fill="#fff" opacity="1.0" filter="url(#bl)"/>
<circle cx="370.4" cy="223.6" r="4.35" fill="url(#dg)" opacity="0.13"/>
<circle cx="370.4" cy="223.6" r="1.15" fill="#fff" opacity="1.0" filter="url(#bl)"/>
<circle cx="357.0" cy="227.6" r="4.2" fill="url(#dg)" opacity="0.07"/>
<circle cx="357.0" cy="227.6" r="1.0" fill="#fff" opacity="0.65" filter="url(#bl)"/>
<circle cx="367.6" cy="228.0" r="4.65" fill="url(#dg)" opacity="0.13"/>
<circle cx="367.6" cy="228.0" r="1.45" fill="#fff" opacity="1.0" filter="url(#bl)"/>
<circle cx="373.0" cy="229.0" r="4.5" fill="url(#dg)" opacity="0.13"/>
<circle cx="373.0" cy="229.0" r="1.3" fill="#fff" opacity="0.9" filter="url(#bl)"/>
<circle cx="364.4" cy="233.0" r="4.5" fill="url(#dg)" opacity="0.13"/>
<circle cx="364.4" cy="233.0" r="1.3" fill="#fff" opacity="0.9" filter="url(#bl)"/>
<circle cx="370.4" cy="232.4" r="4.65" fill="url(#dg)" opacity="0.13"/>
<circle cx="370.4" cy="232.4" r="1.45" fill="#fff" opacity="1.0" filter="url(#bl)"/>
<circle cx="373.0" cy="234.0" r="4.65" fill="url(#dg)" opacity="0.13"/>
<circle cx="373.0" cy="234.0" r="1.45" fill="#fff" opacity="1.0" filter="url(#bl)"/>
<circle cx="363.6" cy="236.0" r="4.5" fill="url(#dg)" opacity="0.13"/>
<circle cx="363.6" cy="236.0" r="1.3" fill="#fff" opacity="1.0" filter="url(#bl)"/>
<circle cx="369.0" cy="237.0" r="4.35" fill="url(#dg)" opacity="0.13"/>
<circle cx="369.0" cy="237.0" r="1.15" fill="#fff" opacity="0.9" filter="url(#bl)"/>
<circle cx="374.0" cy="236.0" r="4.5" fill="url(#dg)" opacity="0.13"/>
<circle cx="374.0" cy="236.0" r="1.3" fill="#fff" opacity="0.9" filter="url(#bl)"/>
<circle cx="365.9" cy="237.0" r="1.1" fill="#fff" opacity="0.22" filter="url(#bl)"/>
<circle cx="376.2" cy="222.4" r="1.1" fill="#fff" opacity="0.22" filter="url(#bl)"/>
<circle cx="368.4" cy="163.7" r="1.1" fill="#fff" opacity="0.22" filter="url(#bl)"/>
<circle cx="419.8" cy="170.9" r="1.1" fill="#fff" opacity="0.22" filter="url(#bl)"/>
<circle cx="438.3" cy="190.6" r="1.1" fill="#fff" opacity="0.22" filter="url(#bl)"/>
<circle cx="364.2" cy="163.9" r="1.1" fill="#fff" opacity="0.22" filter="url(#bl)"/>
<circle cx="386.5" cy="207.2" r="1.1" fill="#fff" opacity="0.22" filter="url(#bl)"/>
<circle cx="438.0" cy="156.3" r="1.1" fill="#fff" opacity="0.22" filter="url(#bl)"/>
<circle cx="384.2" cy="162.9" r="1.1" fill="#fff" opacity="0.22" filter="url(#bl)"/>
<circle cx="440.5" cy="155.9" r="1.1" fill="#fff" opacity="0.22" filter="url(#bl)"/>
<circle cx="351.0" cy="147.9" r="1.1" fill="#fff" opacity="0.22" filter="url(#bl)"/>
<circle cx="384.2" cy="230.0" r="1.1" fill="#fff" opacity="0.22" filter="url(#bl)"/>
<circle cx="431.7" cy="213.8" r="1.1" fill="#fff" opacity="0.22" filter="url(#bl)"/>
<circle cx="442.8" cy="233.3" r="1.1" fill="#fff" opacity="0.22" filter="url(#bl)"/>
</g>
<rect x="410" y="236.7" width="32" height="3" fill="#fff"/>
<text x="88" y="126" font-family='"Liberation Sans", sans-serif' font-size="10.8" fill="#fff">20µm</text>
<text x="-0.5" y="11.7" font-family='"Liberation Sans", sans-serif' font-size="16.5" text-anchor="start" font-weight="bold" fill="#000" stroke="#000" stroke-width="0.22">A</text>
<text x="72" y="25.6" font-family='"Liberation Sans", sans-serif' font-size="12" text-anchor="middle" font-weight="normal" fill="#000" stroke="#000" stroke-width="0.38">Untreated</text>
<text x="176.5" y="25.7" font-family='"Liberation Sans", sans-serif' font-size="12" text-anchor="middle" font-weight="normal" fill="#000" stroke="#000" stroke-width="0.38">As</text>
<text x="282.5" y="25.3" font-family='"Liberation Sans", sans-serif' font-size="12" text-anchor="middle" font-weight="normal" fill="#000" stroke="#000" stroke-width="0.38">CB5083</text>
<text x="390" y="12.5" font-family='"Liberation Sans", sans-serif' font-size="12" text-anchor="middle" font-weight="normal" fill="#000" stroke="#000" stroke-width="0.38">As +</text>
<text x="390" y="26.8" font-family='"Liberation Sans", sans-serif' font-size="12" text-anchor="middle" font-weight="normal" fill="#000" stroke="#000" stroke-width="0.38">CB5083</text>
<text x="453" y="97.9" font-family='"Liberation Sans", sans-serif' font-size="12" text-anchor="start" font-weight="normal" fill="#000" stroke="#000" stroke-width="0.38">0 h</text>
<text x="453" y="205.8" font-family='"Liberation Sans", sans-serif' font-size="12" text-anchor="start" font-weight="normal" fill="#000" stroke="#000" stroke-width="0.38">6.75h</text>
<text x="-1" y="270.8" font-family='"Liberation Sans", sans-serif' font-size="16.5" text-anchor="start" font-weight="bold" fill="#000" stroke="#000" stroke-width="0.22">B</text>
<line x1="46.70" y1="275" x2="46.70" y2="394.2" stroke="#e2e2e2" stroke-width="1"/>
<text transform="translate(46.70,404.90) scale(0.9,1)" font-family='"Liberation Sans", sans-serif' font-size="9.3" text-anchor="middle" fill="#333" stroke="#333" stroke-width="0.2">0</text>
<line x1="63.81" y1="275" x2="63.81" y2="394.2" stroke="#e2e2e2" stroke-width="1"/>
<text transform="translate(63.81,404.90) scale(0.9,1)" font-family='"Liberation Sans", sans-serif' font-size="9.3" text-anchor="middle" fill="#333" stroke="#333" stroke-width="0.2">1</text>
<line x1="80.93" y1="275" x2="80.93" y2="394.2" stroke="#e2e2e2" stroke-width="1"/>
<text transform="translate(80.93,404.90) scale(0.9,1)" font-family='"Liberation Sans", sans-serif' font-size="9.3" text-anchor="middle" fill="#333" stroke="#333" stroke-width="0.2">2</text>
<line x1="98.04" y1="275" x2="98.04" y2="394.2" stroke="#e2e2e2" stroke-width="1"/>
<text transform="translate(98.04,404.90) scale(0.9,1)" font-family='"Liberation Sans", sans-serif' font-size="9.3" text-anchor="middle" fill="#333" stroke="#333" stroke-width="0.2">3</text>
<line x1="115.16" y1="275" x2="115.16" y2="394.2" stroke="#e2e2e2" stroke-width="1"/>
<text transform="translate(115.16,404.90) scale(0.9,1)" font-family='"Liberation Sans", sans-serif' font-size="9.3" text-anchor="middle" fill="#333" stroke="#333" stroke-width="0.2">4</text>
<line x1="132.27" y1="275" x2="132.27" y2="394.2" stroke="#e2e2e2" stroke-width="1"/>
<text transform="translate(132.27,404.90) scale(0.9,1)" font-family='"Liberation Sans", sans-serif' font-size="9.3" text-anchor="middle" fill="#333" stroke="#333" stroke-width="0.2">5</text>
<line x1="149.39" y1="275" x2="149.39" y2="394.2" stroke="#e2e2e2" stroke-width="1"/>
<text transform="translate(149.39,404.90) scale(0.9,1)" font-family='"Liberation Sans", sans-serif' font-size="9.3" text-anchor="middle" fill="#333" stroke="#333" stroke-width="0.2">6</text>
<line x1="166.50" y1="275" x2="166.50" y2="394.2" stroke="#e2e2e2" stroke-width="1"/>
<text transform="translate(166.50,404.90) scale(0.9,1)" font-family='"Liberation Sans", sans-serif' font-size="9.3" text-anchor="middle" fill="#333" stroke="#333" stroke-width="0.2">7</text>
<line x1="46.7" y1="394.20" x2="166.5" y2="394.20" stroke="#e2e2e2" stroke-width="1"/>
<text transform="translate(40.20,396.50) scale(0.9,1)" font-family='"Liberation Sans", sans-serif' font-size="9.3" text-anchor="end" fill="#333" stroke="#333" stroke-width="0.2">0.6</text>
<line x1="46.7" y1="377.17" x2="166.5" y2="377.17" stroke="#e2e2e2" stroke-width="1"/>
<text transform="translate(40.20,379.47) scale(0.9,1)" font-family='"Liberation Sans", sans-serif' font-size="9.3" text-anchor="end" fill="#333" stroke="#333" stroke-width="0.2">0.8</text>
<line x1="46.7" y1="360.14" x2="166.5" y2="360.14" stroke="#e2e2e2" stroke-width="1"/>
<text transform="translate(40.20,362.44) scale(0.9,1)" font-family='"Liberation Sans", sans-serif' font-size="9.3" text-anchor="end" fill="#333" stroke="#333" stroke-width="0.2">1.0</text>
<line x1="46.7" y1="343.11" x2="166.5" y2="343.11" stroke="#e2e2e2" stroke-width="1"/>
<text transform="translate(40.20,345.41) scale(0.9,1)" font-family='"Liberation Sans", sans-serif' font-size="9.3" text-anchor="end" fill="#333" stroke="#333" stroke-width="0.2">1.2</text>
<line x1="46.7" y1="326.09" x2="166.5" y2="326.09" stroke="#e2e2e2" stroke-width="1"/>
<text transform="translate(40.20,328.39) scale(0.9,1)" font-family='"Liberation Sans", sans-serif' font-size="9.3" text-anchor="end" fill="#333" stroke="#333" stroke-width="0.2">1.4</text>
<line x1="46.7" y1="309.06" x2="166.5" y2="309.06" stroke="#e2e2e2" stroke-width="1"/>
<text transform="translate(40.20,311.36) scale(0.9,1)" font-family='"Liberation Sans", sans-serif' font-size="9.3" text-anchor="end" fill="#333" stroke="#333" stroke-width="0.2">1.6</text>
<line x1="46.7" y1="292.03" x2="166.5" y2="292.03" stroke="#e2e2e2" stroke-width="1"/>
<text transform="translate(40.20,294.33) scale(0.9,1)" font-family='"Liberation Sans", sans-serif' font-size="9.3" text-anchor="end" fill="#333" stroke="#333" stroke-width="0.2">1.8</text>
<line x1="46.7" y1="275.00" x2="166.5" y2="275.00" stroke="#e2e2e2" stroke-width="1"/>
<text transform="translate(40.20,277.30) scale(0.9,1)" font-family='"Liberation Sans", sans-serif' font-size="9.3" text-anchor="end" fill="#333" stroke="#333" stroke-width="0.2">2.0</text>
<rect x="65.5" y="272" width="68.30000000000001" height="12.2" fill="#fff"/>
<text x="99.2" y="278.2" font-family='"Liberation Sans", sans-serif' font-size="10.8" text-anchor="middle" font-weight="bold" fill="#000" stroke="#000" stroke-width="0.22">Body size</text>
<text x="106.6" y="415.8" font-family='"Liberation Sans", sans-serif' font-size="8.6" text-anchor="middle" font-weight="normal" fill="#333" stroke="#333" stroke-width="0.2">Time (h)</text>
<text transform="translate(23.7,331.5) rotate(-90)" font-family='"Liberation Sans", sans-serif' font-size="8.3" text-anchor="middle" fill="#333" stroke="#333" stroke-width="0.2">Average PML body size (Arb)</text>
<polyline points="46.70,360.14 76.65,359.55 80.93,356.74 85.21,355.63 89.49,353.33 93.76,355.63 98.04,350.78 102.32,349.41 106.60,351.63 110.88,348.22 115.16,345.84 119.44,346.52 127.99,347.03 136.55,346.52 140.83,342.77 149.39,337.41 157.94,337.41 163.08,333.75" fill="none" stroke="#a8a8a8" stroke-width="1.7" stroke-linejoin="round"/>
<polyline points="46.70,348.65 76.65,352.82 85.21,351.63 93.76,351.97 98.04,351.63 102.32,351.63 106.60,353.33 110.88,352.65 115.16,349.41 119.44,351.63 123.71,351.97 127.99,348.56 132.27,351.97 136.55,349.41 140.83,350.95 145.11,351.97 149.39,349.07 153.66,350.95 157.94,348.56 163.08,351.97" fill="none" stroke="#6a6a6a" stroke-width="1.7" stroke-linejoin="round"/>
<polyline points="46.70,349.07 77.16,345.67 80.93,355.63 85.72,351.63 88.80,350.18 93.76,347.03 98.04,349.41 102.32,348.22 106.60,348.22 110.88,342.69 115.16,342.26 119.44,339.71 123.71,334.17 127.99,328.64 132.27,323.53 136.55,323.11 140.83,318.42 145.11,309.91 149.39,307.35 157.94,295.43 163.08,291.18" fill="none" stroke="#d020f0" stroke-width="1.7" stroke-linejoin="round"/>
<polyline points="46.70,357.16 76.48,348.22 85.21,340.22 89.49,340.22 93.76,343.37 98.04,340.22 102.32,331.62 106.60,340.22 110.88,331.19 115.16,327.36 119.44,332.90 123.71,325.23 127.99,328.64 140.83,305.65 145.11,305.65 149.39,307.35 153.66,297.99 157.94,292.88 163.08,291.18" fill="none" stroke="#6422ee" stroke-width="1.7" stroke-linejoin="round"/>
<line x1="217.50" y1="274.8" x2="217.50" y2="395.5" stroke="#e2e2e2" stroke-width="1"/>
<text transform="translate(217.50,406.20) scale(0.9,1)" font-family='"Liberation Sans", sans-serif' font-size="9.3" text-anchor="middle" fill="#333" stroke="#333" stroke-width="0.2">0</text>
<line x1="234.71" y1="274.8" x2="234.71" y2="395.5" stroke="#e2e2e2" stroke-width="1"/>
<text transform="translate(234.71,406.20) scale(0.9,1)" font-family='"Liberation Sans", sans-serif' font-size="9.3" text-anchor="middle" fill="#333" stroke="#333" stroke-width="0.2">1</text>
<line x1="251.93" y1="274.8" x2="251.93" y2="395.5" stroke="#e2e2e2" stroke-width="1"/>
<text transform="translate(251.93,406.20) scale(0.9,1)" font-family='"Liberation Sans", sans-serif' font-size="9.3" text-anchor="middle" fill="#333" stroke="#333" stroke-width="0.2">2</text>
<line x1="269.14" y1="274.8" x2="269.14" y2="395.5" stroke="#e2e2e2" stroke-width="1"/>
<text transform="translate(269.14,406.20) scale(0.9,1)" font-family='"Liberation Sans", sans-serif' font-size="9.3" text-anchor="middle" fill="#333" stroke="#333" stroke-width="0.2">3</text>
<line x1="286.36" y1="274.8" x2="286.36" y2="395.5" stroke="#e2e2e2" stroke-width="1"/>
<text transform="translate(286.36,406.20) scale(0.9,1)" font-family='"Liberation Sans", sans-serif' font-size="9.3" text-anchor="middle" fill="#333" stroke="#333" stroke-width="0.2">4</text>
<line x1="303.57" y1="274.8" x2="303.57" y2="395.5" stroke="#e2e2e2" stroke-width="1"/>
<text transform="translate(303.57,406.20) scale(0.9,1)" font-family='"Liberation Sans", sans-serif' font-size="9.3" text-anchor="middle" fill="#333" stroke="#333" stroke-width="0.2">5</text>
<line x1="320.79" y1="274.8" x2="320.79" y2="395.5" stroke="#e2e2e2" stroke-width="1"/>
<text transform="translate(320.79,406.20) scale(0.9,1)" font-family='"Liberation Sans", sans-serif' font-size="9.3" text-anchor="middle" fill="#333" stroke="#333" stroke-width="0.2">6</text>
<line x1="338.00" y1="274.8" x2="338.00" y2="395.5" stroke="#e2e2e2" stroke-width="1"/>
<text transform="translate(338.00,406.20) scale(0.9,1)" font-family='"Liberation Sans", sans-serif' font-size="9.3" text-anchor="middle" fill="#333" stroke="#333" stroke-width="0.2">7</text>
<line x1="217.5" y1="395.50" x2="338" y2="395.50" stroke="#e2e2e2" stroke-width="1"/>
<text transform="translate(211.00,397.80) scale(0.9,1)" font-family='"Liberation Sans", sans-serif' font-size="9.3" text-anchor="end" fill="#333" stroke="#333" stroke-width="0.2">0.4</text>
<line x1="217.5" y1="371.36" x2="338" y2="371.36" stroke="#e2e2e2" stroke-width="1"/>
<text transform="translate(211.00,373.66) scale(0.9,1)" font-family='"Liberation Sans", sans-serif' font-size="9.3" text-anchor="end" fill="#333" stroke="#333" stroke-width="0.2">0.6</text>
<line x1="217.5" y1="347.22" x2="338" y2="347.22" stroke="#e2e2e2" stroke-width="1"/>
<text transform="translate(211.00,349.52) scale(0.9,1)" font-family='"Liberation Sans", sans-serif' font-size="9.3" text-anchor="end" fill="#333" stroke="#333" stroke-width="0.2">0.8</text>
<line x1="217.5" y1="323.08" x2="338" y2="323.08" stroke="#e2e2e2" stroke-width="1"/>
<text transform="translate(211.00,325.38) scale(0.9,1)" font-family='"Liberation Sans", sans-serif' font-size="9.3" text-anchor="end" fill="#333" stroke="#333" stroke-width="0.2">1.0</text>
<line x1="217.5" y1="298.94" x2="338" y2="298.94" stroke="#e2e2e2" stroke-width="1"/>
<text transform="translate(211.00,301.24) scale(0.9,1)" font-family='"Liberation Sans", sans-serif' font-size="9.3" text-anchor="end" fill="#333" stroke="#333" stroke-width="0.2">1.2</text>
<line x1="217.5" y1="274.80" x2="338" y2="274.80" stroke="#e2e2e2" stroke-width="1"/>
<text transform="translate(211.00,277.10) scale(0.9,1)" font-family='"Liberation Sans", sans-serif' font-size="9.3" text-anchor="end" fill="#333" stroke="#333" stroke-width="0.2">1.4</text>
<rect x="240.6" y="271.8" width="79.79999999999998" height="12.0" fill="#fff"/>
<text x="281.2" y="277.8" font-family='"Liberation Sans", sans-serif' font-size="10.8" text-anchor="middle" font-weight="bold" fill="#000" stroke="#000" stroke-width="0.22">Body Count</text>
<text x="277.75" y="417.1" font-family='"Liberation Sans", sans-serif' font-size="8.6" text-anchor="middle" font-weight="normal" fill="#333" stroke="#333" stroke-width="0.2">Time (h)</text>
<text transform="translate(194.20000000000002,340.5) rotate(-90)" font-family='"Liberation Sans", sans-serif' font-size="8.8" text-anchor="middle" fill="#333" stroke="#333" stroke-width="0.2">Relative PML body count per cell</text>
<polyline points="217.50,323.08 247.28,315.72 251.93,311.61 256.58,313.91 260.54,313.91 265.18,309.92 272.76,313.91 278.09,309.68 286.70,309.68 291.00,308.23 299.61,309.32 307.53,308.96 313.38,311.85 320.61,315.48 324.23,315.48 329.22,311.13 334.38,313.18" fill="none" stroke="#a8a8a8" stroke-width="1.7" stroke-linejoin="round"/>
<polyline points="217.50,323.08 247.28,340.34 252.27,346.25 256.92,348.19 261.40,346.25 266.91,349.88 273.27,358.08 277.92,358.93 282.57,363.51 290.83,366.17 294.45,366.17 299.96,368.95 304.43,370.76 308.05,373.77 311.83,372.57 315.45,374.98 320.96,381.26 325.43,379.81 329.05,380.77 333.70,383.91" fill="none" stroke="#6a6a6a" stroke-width="1.7" stroke-linejoin="round"/>
<polyline points="217.50,323.08 247.28,297.97 251.93,291.34 256.06,291.34 260.54,295.08 264.67,295.08 268.80,291.70 277.41,296.04 282.40,296.77 295.31,315.48 299.61,315.48 303.92,320.42 308.39,323.32 316.31,334.79 320.61,336.84 324.92,336.84 330.08,345.29 333.70,348.19" fill="none" stroke="#d020f0" stroke-width="1.7" stroke-linejoin="round"/>
<polyline points="217.50,323.08 247.28,322.60 251.93,321.99 256.58,324.89 264.67,323.80 268.80,321.99 272.93,328.99 278.09,329.72 286.70,332.62 290.32,331.41 295.31,333.34 299.61,330.93 303.92,330.93 308.39,342.63 312.69,343.60 319.93,348.19 325.43,353.50 333.70,358.93" fill="none" stroke="#6422ee" stroke-width="1.7" stroke-linejoin="round"/>
<line x1="46.30" y1="442.9" x2="46.30" y2="563.7" stroke="#e2e2e2" stroke-width="1"/>
<text transform="translate(46.30,574.40) scale(0.9,1)" font-family='"Liberation Sans", sans-serif' font-size="9.3" text-anchor="middle" fill="#333" stroke="#333" stroke-width="0.2">0</text>
<line x1="63.51" y1="442.9" x2="63.51" y2="563.7" stroke="#e2e2e2" stroke-width="1"/>
<text transform="translate(63.51,574.40) scale(0.9,1)" font-family='"Liberation Sans", sans-serif' font-size="9.3" text-anchor="middle" fill="#333" stroke="#333" stroke-width="0.2">1</text>
<line x1="80.73" y1="442.9" x2="80.73" y2="563.7" stroke="#e2e2e2" stroke-width="1"/>
<text transform="translate(80.73,574.40) scale(0.9,1)" font-family='"Liberation Sans", sans-serif' font-size="9.3" text-anchor="middle" fill="#333" stroke="#333" stroke-width="0.2">2</text>
<line x1="97.94" y1="442.9" x2="97.94" y2="563.7" stroke="#e2e2e2" stroke-width="1"/>
<text transform="translate(97.94,574.40) scale(0.9,1)" font-family='"Liberation Sans", sans-serif' font-size="9.3" text-anchor="middle" fill="#333" stroke="#333" stroke-width="0.2">3</text>
<line x1="115.16" y1="442.9" x2="115.16" y2="563.7" stroke="#e2e2e2" stroke-width="1"/>
<text transform="translate(115.16,574.40) scale(0.9,1)" font-family='"Liberation Sans", sans-serif' font-size="9.3" text-anchor="middle" fill="#333" stroke="#333" stroke-width="0.2">4</text>
<line x1="132.37" y1="442.9" x2="132.37" y2="563.7" stroke="#e2e2e2" stroke-width="1"/>
<text transform="translate(132.37,574.40) scale(0.9,1)" font-family='"Liberation Sans", sans-serif' font-size="9.3" text-anchor="middle" fill="#333" stroke="#333" stroke-width="0.2">5</text>
<line x1="149.59" y1="442.9" x2="149.59" y2="563.7" stroke="#e2e2e2" stroke-width="1"/>
<text transform="translate(149.59,574.40) scale(0.9,1)" font-family='"Liberation Sans", sans-serif' font-size="9.3" text-anchor="middle" fill="#333" stroke="#333" stroke-width="0.2">6</text>
<line x1="166.80" y1="442.9" x2="166.80" y2="563.7" stroke="#e2e2e2" stroke-width="1"/>
<text transform="translate(166.80,574.40) scale(0.9,1)" font-family='"Liberation Sans", sans-serif' font-size="9.3" text-anchor="middle" fill="#333" stroke="#333" stroke-width="0.2">7</text>
<line x1="46.3" y1="563.70" x2="166.8" y2="563.70" stroke="#e2e2e2" stroke-width="1"/>
<text transform="translate(39.80,566.00) scale(0.9,1)" font-family='"Liberation Sans", sans-serif' font-size="9.3" text-anchor="end" fill="#333" stroke="#333" stroke-width="0.2">0.4</text>
<line x1="46.3" y1="543.57" x2="166.8" y2="543.57" stroke="#e2e2e2" stroke-width="1"/>
<text transform="translate(39.80,545.87) scale(0.9,1)" font-family='"Liberation Sans", sans-serif' font-size="9.3" text-anchor="end" fill="#333" stroke="#333" stroke-width="0.2">0.6</text>
<line x1="46.3" y1="523.43" x2="166.8" y2="523.43" stroke="#e2e2e2" stroke-width="1"/>
<text transform="translate(39.80,525.73) scale(0.9,1)" font-family='"Liberation Sans", sans-serif' font-size="9.3" text-anchor="end" fill="#333" stroke="#333" stroke-width="0.2">0.8</text>
<line x1="46.3" y1="503.30" x2="166.8" y2="503.30" stroke="#e2e2e2" stroke-width="1"/>
<text transform="translate(39.80,505.60) scale(0.9,1)" font-family='"Liberation Sans", sans-serif' font-size="9.3" text-anchor="end" fill="#333" stroke="#333" stroke-width="0.2">1.0</text>
<line x1="46.3" y1="483.17" x2="166.8" y2="483.17" stroke="#e2e2e2" stroke-width="1"/>
<text transform="translate(39.80,485.47) scale(0.9,1)" font-family='"Liberation Sans", sans-serif' font-size="9.3" text-anchor="end" fill="#333" stroke="#333" stroke-width="0.2">1.2</text>
<line x1="46.3" y1="463.03" x2="166.8" y2="463.03" stroke="#e2e2e2" stroke-width="1"/>
<text transform="translate(39.80,465.33) scale(0.9,1)" font-family='"Liberation Sans", sans-serif' font-size="9.3" text-anchor="end" fill="#333" stroke="#333" stroke-width="0.2">1.4</text>
<line x1="46.3" y1="442.90" x2="166.8" y2="442.90" stroke="#e2e2e2" stroke-width="1"/>
<text transform="translate(39.80,445.20) scale(0.9,1)" font-family='"Liberation Sans", sans-serif' font-size="9.3" text-anchor="end" fill="#333" stroke="#333" stroke-width="0.2">1.6</text>
<rect x="54" y="439.9" width="111.4" height="15.0" fill="#fff"/>
<text x="110.2" y="448.9" font-family='"Liberation Sans", sans-serif' font-size="10.8" text-anchor="middle" font-weight="bold" fill="#000" stroke="#000" stroke-width="0.22">Body area per cell</text>
<text x="106.55000000000001" y="585.3000000000001" font-family='"Liberation Sans", sans-serif' font-size="8.6" text-anchor="middle" font-weight="normal" fill="#333" stroke="#333" stroke-width="0.2">Time (h)</text>
<text transform="translate(23.0,507.6) rotate(-90)" font-family='"Liberation Sans", sans-serif' font-size="8.8" text-anchor="middle" fill="#333" stroke="#333" stroke-width="0.2">Relative PML body area per cell</text>
<polyline points="46.30,503.30 76.42,495.85 80.73,489.11 85.03,490.31 89.34,487.19 93.64,486.59 97.94,482.86 106.55,479.44 113.44,474.71 119.63,471.99 124.28,474.71 128.93,474.71 136.50,470.68 145.28,468.97 154.06,467.66 163.53,461.12" fill="none" stroke="#a8a8a8" stroke-width="1.7" stroke-linejoin="round"/>
<polyline points="46.30,503.30 75.39,520.41 80.73,524.54 88.82,525.04 97.25,530.18 106.89,536.72 111.89,538.23 115.50,538.23 122.73,539.94 128.93,540.65 133.23,544.27 140.98,546.49 150.79,550.92 158.02,550.41 163.36,556.25" fill="none" stroke="#6a6a6a" stroke-width="1.7" stroke-linejoin="round"/>
<polyline points="46.30,503.30 76.42,474.21 80.73,484.07 85.03,475.42 89.34,477.33 97.43,473.60 106.03,476.02 110.85,468.57 115.50,474.71 119.63,477.43 124.28,476.02 128.41,467.97 133.06,470.38 137.88,470.89 145.28,471.29 149.24,472.70 154.06,464.95 158.71,469.98 163.53,472.29" fill="none" stroke="#d020f0" stroke-width="1.7" stroke-linejoin="round"/>
<polyline points="46.30,503.30 76.42,491.52 80.73,486.79 85.03,485.38 89.34,482.26 93.12,484.78 101.73,477.93 106.55,486.89 110.85,479.44 114.81,478.54 119.63,479.84 124.28,478.54 128.41,477.63 132.37,472.70 136.50,476.72 141.15,468.97 145.97,474.01 151.31,476.72 158.02,477.63 163.53,479.84" fill="none" stroke="#6422ee" stroke-width="1.7" stroke-linejoin="round"/>
<line x1="216.30" y1="445.5" x2="216.30" y2="565.4" stroke="#e2e2e2" stroke-width="1"/>
<text transform="translate(216.30,576.10) scale(0.9,1)" font-family='"Liberation Sans", sans-serif' font-size="9.3" text-anchor="middle" fill="#333" stroke="#333" stroke-width="0.2">0</text>
<line x1="233.51" y1="445.5" x2="233.51" y2="565.4" stroke="#e2e2e2" stroke-width="1"/>
<text transform="translate(233.51,576.10) scale(0.9,1)" font-family='"Liberation Sans", sans-serif' font-size="9.3" text-anchor="middle" fill="#333" stroke="#333" stroke-width="0.2">1</text>
<line x1="250.73" y1="445.5" x2="250.73" y2="565.4" stroke="#e2e2e2" stroke-width="1"/>
<text transform="translate(250.73,576.10) scale(0.9,1)" font-family='"Liberation Sans", sans-serif' font-size="9.3" text-anchor="middle" fill="#333" stroke="#333" stroke-width="0.2">2</text>
<line x1="267.94" y1="445.5" x2="267.94" y2="565.4" stroke="#e2e2e2" stroke-width="1"/>
<text transform="translate(267.94,576.10) scale(0.9,1)" font-family='"Liberation Sans", sans-serif' font-size="9.3" text-anchor="middle" fill="#333" stroke="#333" stroke-width="0.2">3</text>
<line x1="285.16" y1="445.5" x2="285.16" y2="565.4" stroke="#e2e2e2" stroke-width="1"/>
<text transform="translate(285.16,576.10) scale(0.9,1)" font-family='"Liberation Sans", sans-serif' font-size="9.3" text-anchor="middle" fill="#333" stroke="#333" stroke-width="0.2">4</text>
<line x1="302.37" y1="445.5" x2="302.37" y2="565.4" stroke="#e2e2e2" stroke-width="1"/>
<text transform="translate(302.37,576.10) scale(0.9,1)" font-family='"Liberation Sans", sans-serif' font-size="9.3" text-anchor="middle" fill="#333" stroke="#333" stroke-width="0.2">5</text>
<line x1="319.59" y1="445.5" x2="319.59" y2="565.4" stroke="#e2e2e2" stroke-width="1"/>
<text transform="translate(319.59,576.10) scale(0.9,1)" font-family='"Liberation Sans", sans-serif' font-size="9.3" text-anchor="middle" fill="#333" stroke="#333" stroke-width="0.2">6</text>
<line x1="336.80" y1="445.5" x2="336.80" y2="565.4" stroke="#e2e2e2" stroke-width="1"/>
<text transform="translate(336.80,576.10) scale(0.9,1)" font-family='"Liberation Sans", sans-serif' font-size="9.3" text-anchor="middle" fill="#333" stroke="#333" stroke-width="0.2">7</text>
<line x1="216.3" y1="565.40" x2="336.8" y2="565.40" stroke="#e2e2e2" stroke-width="1"/>
<text transform="translate(209.80,567.70) scale(0.9,1)" font-family='"Liberation Sans", sans-serif' font-size="9.3" text-anchor="end" fill="#333" stroke="#333" stroke-width="0.2">0.0</text>
<line x1="216.3" y1="552.08" x2="336.8" y2="552.08" stroke="#e2e2e2" stroke-width="1"/>
<text transform="translate(209.80,554.38) scale(0.9,1)" font-family='"Liberation Sans", sans-serif' font-size="9.3" text-anchor="end" fill="#333" stroke="#333" stroke-width="0.2">0.2</text>
<line x1="216.3" y1="538.76" x2="336.8" y2="538.76" stroke="#e2e2e2" stroke-width="1"/>
<text transform="translate(209.80,541.06) scale(0.9,1)" font-family='"Liberation Sans", sans-serif' font-size="9.3" text-anchor="end" fill="#333" stroke="#333" stroke-width="0.2">0.4</text>
<line x1="216.3" y1="525.43" x2="336.8" y2="525.43" stroke="#e2e2e2" stroke-width="1"/>
<text transform="translate(209.80,527.73) scale(0.9,1)" font-family='"Liberation Sans", sans-serif' font-size="9.3" text-anchor="end" fill="#333" stroke="#333" stroke-width="0.2">0.6</text>
<line x1="216.3" y1="512.11" x2="336.8" y2="512.11" stroke="#e2e2e2" stroke-width="1"/>
<text transform="translate(209.80,514.41) scale(0.9,1)" font-family='"Liberation Sans", sans-serif' font-size="9.3" text-anchor="end" fill="#333" stroke="#333" stroke-width="0.2">0.8</text>
<line x1="216.3" y1="498.79" x2="336.8" y2="498.79" stroke="#e2e2e2" stroke-width="1"/>
<text transform="translate(209.80,501.09) scale(0.9,1)" font-family='"Liberation Sans", sans-serif' font-size="9.3" text-anchor="end" fill="#333" stroke="#333" stroke-width="0.2">1.0</text>
<line x1="216.3" y1="485.47" x2="336.8" y2="485.47" stroke="#e2e2e2" stroke-width="1"/>
<text transform="translate(209.80,487.77) scale(0.9,1)" font-family='"Liberation Sans", sans-serif' font-size="9.3" text-anchor="end" fill="#333" stroke="#333" stroke-width="0.2">1.2</text>
<line x1="216.3" y1="472.14" x2="336.8" y2="472.14" stroke="#e2e2e2" stroke-width="1"/>
<text transform="translate(209.80,474.44) scale(0.9,1)" font-family='"Liberation Sans", sans-serif' font-size="9.3" text-anchor="end" fill="#333" stroke="#333" stroke-width="0.2">1.4</text>
<line x1="216.3" y1="458.82" x2="336.8" y2="458.82" stroke="#e2e2e2" stroke-width="1"/>
<text transform="translate(209.80,461.12) scale(0.9,1)" font-family='"Liberation Sans", sans-serif' font-size="9.3" text-anchor="end" fill="#333" stroke="#333" stroke-width="0.2">1.6</text>
<line x1="216.3" y1="445.50" x2="336.8" y2="445.50" stroke="#e2e2e2" stroke-width="1"/>
<text transform="translate(209.80,447.80) scale(0.9,1)" font-family='"Liberation Sans", sans-serif' font-size="9.3" text-anchor="end" fill="#333" stroke="#333" stroke-width="0.2">1.8</text>
<rect x="231.5" y="442.5" width="93.5" height="12.4" fill="#fff"/>
<text x="278.5" y="448.9" font-family='"Liberation Sans", sans-serif' font-size="10.8" text-anchor="middle" font-weight="bold" fill="#000" stroke="#000" stroke-width="0.22">Body Intensity</text>
<text x="276.55" y="587.0" font-family='"Liberation Sans", sans-serif' font-size="8.6" text-anchor="middle" font-weight="normal" fill="#333" stroke="#333" stroke-width="0.2">Time (h)</text>
<text transform="translate(192.6,505.9) rotate(-90)" font-family='"Liberation Sans", sans-serif' font-size="8.8" text-anchor="middle" fill="#333" stroke="#333" stroke-width="0.2">Relative PML intensity per cell</text>
<polyline points="216.30,498.79 245.91,492.46 250.38,487.40 254.17,488.00 259.34,485.47 267.60,482.27 270.35,480.80 281.20,477.67 285.16,474.54 293.42,475.34 299.45,474.54 310.98,471.48 320.45,468.81 328.71,464.15 333.36,462.82" fill="none" stroke="#a8a8a8" stroke-width="1.7" stroke-linejoin="round"/>
<polyline points="216.30,498.79 250.56,512.51 257.96,513.31 272.59,519.31 282.23,522.24 298.07,524.23 307.88,527.17 311.50,527.17 321.31,530.23 327.50,529.56 333.53,532.76" fill="none" stroke="#6a6a6a" stroke-width="1.7" stroke-linejoin="round"/>
<polyline points="216.30,498.79 245.91,483.53 250.38,487.40 254.86,482.87 263.81,484.80 271.39,482.27 276.89,482.34 281.20,477.67 285.16,481.67 293.42,481.07 299.45,476.27 306.85,474.94 319.24,472.94 324.58,467.48 328.71,469.48 333.36,467.22" fill="none" stroke="#d020f0" stroke-width="1.7" stroke-linejoin="round"/>
<polyline points="216.30,498.79 245.91,490.60 250.38,486.67 254.86,483.53 259.34,483.14 263.12,484.47 267.60,481.67 272.07,480.14 276.89,485.47 280.85,478.34 284.47,478.61 289.29,479.94 294.11,476.94 298.93,475.67 302.89,472.14 306.85,470.95 311.67,467.48 315.80,469.95 320.45,472.14 325.96,472.94 333.36,474.28" fill="none" stroke="#6422ee" stroke-width="1.7" stroke-linejoin="round"/>
<line x1="359" y1="284.1" x2="388.7" y2="284.1" stroke="#c4c4c4" stroke-width="1.6"/>
<text x="394.4" y="286.8" font-family='"Liberation Sans", sans-serif' font-size="9.55" text-anchor="start" font-weight="normal" fill="#000" stroke="#000" stroke-width="0.2">Untreated</text>
<line x1="359" y1="300.2" x2="388.7" y2="300.2" stroke="#5a5a5a" stroke-width="1.6"/>
<text x="394.4" y="302.9" font-family='"Liberation Sans", sans-serif' font-size="9.55" text-anchor="start" font-weight="normal" fill="#000" stroke="#000" stroke-width="0.2">1μM As</text>
<line x1="359" y1="316.4" x2="388.7" y2="316.4" stroke="#dd55f2" stroke-width="1.6"/>
<text x="394.4" y="319.1" font-family='"Liberation Sans", sans-serif' font-size="9.55" text-anchor="start" font-weight="normal" fill="#000" stroke="#000" stroke-width="0.2">5μM CB-5083</text>
<line x1="359" y1="332.6" x2="388.7" y2="332.6" stroke="#6a22dd" stroke-width="1.6"/>
<text x="394.4" y="335.2" font-family='"Liberation Sans", sans-serif' font-size="9.55" text-anchor="start" font-weight="normal" fill="#000" stroke="#000" stroke-width="0.2">1μM As + 5μM CB-5083</text>
<text x="367.6" y="383.3" font-family='"Liberation Sans", sans-serif' font-size="17.4" text-anchor="start" font-weight="bold" fill="#000" stroke="#000" stroke-width="0.1">C</text>
<text x="459.5" y="377.7" font-family='"Liberation Sans", sans-serif' font-size="10.8" text-anchor="middle" font-weight="bold" fill="#000" stroke="#000" stroke-width="0.22">6.75h time point</text>
<line x1="410.4" y1="397.9" x2="410.4" y2="507.8" stroke="#000" stroke-width="1.2"/>
<line x1="410.4" y1="507.2" x2="518" y2="507.2" stroke="#000" stroke-width="1.2"/>
<line x1="405.8" y1="507.2" x2="410.4" y2="507.2" stroke="#000" stroke-width="1.6"/>
<text x="405.2" y="510.4" font-family='"Liberation Sans", sans-serif' font-size="8.4" text-anchor="end" font-weight="bold" fill="#000" stroke="#000" stroke-width="0.1">0</text>
<line x1="405.8" y1="480.0" x2="410.4" y2="480.0" stroke="#000" stroke-width="1.6"/>
<text x="405.2" y="483.2" font-family='"Liberation Sans", sans-serif' font-size="8.4" text-anchor="end" font-weight="bold" fill="#000" stroke="#000" stroke-width="0.1">1</text>
<line x1="405.8" y1="452.8" x2="410.4" y2="452.8" stroke="#000" stroke-width="1.6"/>
<text x="405.2" y="456.0" font-family='"Liberation Sans", sans-serif' font-size="8.4" text-anchor="end" font-weight="bold" fill="#000" stroke="#000" stroke-width="0.1">2</text>
<line x1="405.8" y1="425.6" x2="410.4" y2="425.6" stroke="#000" stroke-width="1.6"/>
<text x="405.2" y="428.8" font-family='"Liberation Sans", sans-serif' font-size="8.4" text-anchor="end" font-weight="bold" fill="#000" stroke="#000" stroke-width="0.1">3</text>
<line x1="405.8" y1="398.4" x2="410.4" y2="398.4" stroke="#000" stroke-width="1.6"/>
<text x="405.2" y="401.6" font-family='"Liberation Sans", sans-serif' font-size="8.4" text-anchor="end" font-weight="bold" fill="#000" stroke="#000" stroke-width="0.1">4</text>
<text transform="translate(392.8,449.6) rotate(-90)" font-family='"Liberation Sans", sans-serif' font-size="8.6" text-anchor="middle" font-weight="bold">Relative PML intensity per cell</text>
<rect x="419.2" y="466.4" width="16" height="40.8" fill="#d9d9d9" stroke="#000" stroke-width="1.6"/>
<line x1="427.2" y1="507.2" x2="427.2" y2="511.7" stroke="#000" stroke-width="1.2"/>
<rect x="444.6" y="496.0" width="16" height="11.2" fill="#a0a0a0" stroke="#000" stroke-width="1.6"/>
<line x1="452.6" y1="507.2" x2="452.6" y2="511.7" stroke="#000" stroke-width="1.2"/>
<rect x="469.6" y="468.0" width="16" height="39.2" fill="#e010f0" stroke="#000" stroke-width="1.6"/>
<line x1="477.6" y1="507.2" x2="477.6" y2="511.7" stroke="#000" stroke-width="1.2"/>
<rect x="495.2" y="471.3" width="16" height="35.9" fill="#7410f0" stroke="#000" stroke-width="1.6"/>
<line x1="503.2" y1="507.2" x2="503.2" y2="511.7" stroke="#000" stroke-width="1.2"/>
<line x1="477.6" y1="451.4" x2="477.6" y2="468.0" stroke="#000" stroke-width="0.9"/>
<line x1="477.6" y1="468.0" x2="477.6" y2="484.6" stroke="#000" stroke-width="0.8" opacity="0.55"/>
<line x1="473.6" y1="484.6" x2="481.6" y2="484.6" stroke="#000" stroke-width="0.8" opacity="0.55"/>
<line x1="473.6" y1="451.4" x2="481.6" y2="451.4" stroke="#000" stroke-width="1"/>
<line x1="503.2" y1="460.4" x2="503.2" y2="471.3" stroke="#000" stroke-width="0.9"/>
<line x1="503.2" y1="471.3" x2="503.2" y2="482.2" stroke="#000" stroke-width="0.8" opacity="0.55"/>
<line x1="499.2" y1="482.2" x2="507.2" y2="482.2" stroke="#000" stroke-width="0.8" opacity="0.55"/>
<line x1="499.2" y1="460.4" x2="507.2" y2="460.4" stroke="#000" stroke-width="1"/>
<circle cx="429.2" cy="455.4" r="2.2" fill="#fff" stroke="#000" stroke-width="1.1"/>
<circle cx="425.2" cy="458.5" r="2.2" fill="#fff" stroke="#000" stroke-width="1.1"/>
<circle cx="420.8" cy="462.5" r="2.2" fill="#fff" stroke="#000" stroke-width="1.1"/>
<circle cx="433.5" cy="463.8" r="2.2" fill="#fff" stroke="#000" stroke-width="1.1"/>
<circle cx="425.2" cy="466" r="2.2" fill="#fff" stroke="#000" stroke-width="1.1"/>
<circle cx="429.2" cy="467" r="2.2" fill="#fff" stroke="#000" stroke-width="1.1"/>
<circle cx="420.8" cy="467.7" r="2.2" fill="#fff" stroke="#000" stroke-width="1.1"/>
<circle cx="433.5" cy="470.2" r="2.2" fill="#fff" stroke="#000" stroke-width="1.1"/>
<circle cx="429.2" cy="471.2" r="2.2" fill="#fff" stroke="#000" stroke-width="1.1"/>
<circle cx="420.8" cy="474.5" r="2.2" fill="#fff" stroke="#000" stroke-width="1.1"/>
<circle cx="447.9" cy="489.2" r="2.2" fill="#b4b4b4" stroke="#000" stroke-width="1.1"/>
<circle cx="456.6" cy="489.9" r="2.2" fill="#b4b4b4" stroke="#000" stroke-width="1.1"/>
<circle cx="453.9" cy="492.3" r="2.2" fill="#b4b4b4" stroke="#000" stroke-width="1.1"/>
<circle cx="448.4" cy="493.5" r="2.2" fill="#b4b4b4" stroke="#000" stroke-width="1.1"/>
<circle cx="456.3" cy="494.7" r="2.2" fill="#b4b4b4" stroke="#000" stroke-width="1.1"/>
<circle cx="450.3" cy="495.9" r="2.2" fill="#b4b4b4" stroke="#000" stroke-width="1.1"/>
<circle cx="446" cy="497.1" r="2.2" fill="#b4b4b4" stroke="#000" stroke-width="1.1"/>
<circle cx="454.4" cy="497.9" r="2.2" fill="#b4b4b4" stroke="#000" stroke-width="1.1"/>
<circle cx="458.5" cy="497.6" r="2.2" fill="#b4b4b4" stroke="#000" stroke-width="1.1"/>
<circle cx="478" cy="428.5" r="2.2" fill="#e414f2" stroke="#000" stroke-width="1.1"/>
<circle cx="477.7" cy="453.3" r="2.2" fill="#e414f2" stroke="#000" stroke-width="1.1"/>
<circle cx="477.7" cy="462.2" r="2.2" fill="#e414f2" stroke="#000" stroke-width="1.1"/>
<circle cx="471.1" cy="472.5" r="2.2" fill="#e414f2" stroke="#000" stroke-width="1.1"/>
<circle cx="474.2" cy="475" r="2.2" fill="#e414f2" stroke="#000" stroke-width="1.1"/>
<circle cx="477.5" cy="476.2" r="2.2" fill="#e414f2" stroke="#000" stroke-width="1.1"/>
<circle cx="481" cy="474.4" r="2.2" fill="#e414f2" stroke="#000" stroke-width="1.1"/>
<circle cx="484.6" cy="474.2" r="2.2" fill="#e414f2" stroke="#000" stroke-width="1.1"/>
<circle cx="474.5" cy="479.6" r="2.2" fill="#e414f2" stroke="#000" stroke-width="1.1"/>
<circle cx="480.8" cy="479" r="2.2" fill="#e414f2" stroke="#000" stroke-width="1.1"/>
<circle cx="502.9" cy="446.6" r="2.2" fill="#7a18f0" stroke="#000" stroke-width="1.1"/>
<circle cx="505.2" cy="464.2" r="2.2" fill="#7a18f0" stroke="#000" stroke-width="1.1"/>
<circle cx="496.9" cy="467.7" r="2.2" fill="#7a18f0" stroke="#000" stroke-width="1.1"/>
<circle cx="500.9" cy="467" r="2.2" fill="#7a18f0" stroke="#000" stroke-width="1.1"/>
<circle cx="505.2" cy="470.5" r="2.2" fill="#7a18f0" stroke="#000" stroke-width="1.1"/>
<circle cx="496.9" cy="475.9" r="2.2" fill="#7a18f0" stroke="#000" stroke-width="1.1"/>
<circle cx="500.9" cy="474.4" r="2.2" fill="#7a18f0" stroke="#000" stroke-width="1.1"/>
<circle cx="509.4" cy="475.5" r="2.2" fill="#7a18f0" stroke="#000" stroke-width="1.1"/>
<circle cx="504.8" cy="478.3" r="2.2" fill="#7a18f0" stroke="#000" stroke-width="1.1"/>
<circle cx="500.9" cy="480.6" r="2.2" fill="#7a18f0" stroke="#000" stroke-width="1.1"/>
<polyline points="423.5,450.7 423.5,445.2 452.5,445.2 452.5,450.7" fill="none" stroke="#000" stroke-width="1.6"/>
<polyline points="423.8,420.3 423.8,413.8 476.8,413.8 476.8,420.3" fill="none" stroke="#000" stroke-width="1.6"/>
<polyline points="476.8,420.3 476.8,413.8 505.7,413.8 505.7,420.3" fill="none" stroke="#000" stroke-width="1.6"/>
<polyline points="453.5,400.8 453.5,394.8 505.7,394.8 505.7,400.8" fill="none" stroke="#000" stroke-width="1.6"/>
<text x="415.5" y="440" font-family='"Liberation Sans", sans-serif' font-size="8.3" fill="#2a2a2a" stroke="#2a2a2a" stroke-width="0.2"><tspan font-style="italic">p</tspan>=4.6x10<tspan dy="-3.3" font-size="6.2">-11</tspan></text>
<text x="437" y="410.5" font-family='"Liberation Sans", sans-serif' font-size="8.3" fill="#2a2a2a" stroke="#2a2a2a" stroke-width="0.2"><tspan font-style="italic">p</tspan>=0.76<tspan dy="-3.3" font-size="6.2">*</tspan></text>
<text x="477.3" y="410.5" font-family='"Liberation Sans", sans-serif' font-size="8.3" fill="#2a2a2a" stroke="#2a2a2a" stroke-width="0.2"><tspan font-style="italic">p</tspan>=0.65</text>
<text x="459.2" y="390.8" font-family='"Liberation Sans", sans-serif' font-size="8.3" fill="#2a2a2a" stroke="#2a2a2a" stroke-width="0.2"><tspan font-style="italic">p</tspan>=1.4x10<tspan dy="-3.3" font-size="6.2">-5*</tspan></text>
<text transform="translate(430.2,522) rotate(-90)" font-family='"Liberation Sans", sans-serif' font-size="10.6" text-anchor="end" stroke="#000" stroke-width="0.25">NT</text>
<text transform="translate(455.2,522) rotate(-90)" font-family='"Liberation Sans", sans-serif' font-size="10.6" text-anchor="end" stroke="#000" stroke-width="0.25">1μM As</text>
<text transform="translate(481.2,522) rotate(-90)" font-family='"Liberation Sans", sans-serif' font-size="10.6" text-anchor="end" stroke="#000" stroke-width="0.25">5μM CB-5083</text>
<text transform="translate(500,522) rotate(-90)" font-family='"Liberation Sans", sans-serif' font-size="10.6" text-anchor="end" stroke="#000" stroke-width="0.25">5μM CB-5083</text>
<text transform="translate(514,522) rotate(-90)" font-family='"Liberation Sans", sans-serif' font-size="10.6" text-anchor="end" stroke="#000" stroke-width="0.25">+ 1uM As</text>
</svg></body></html>
